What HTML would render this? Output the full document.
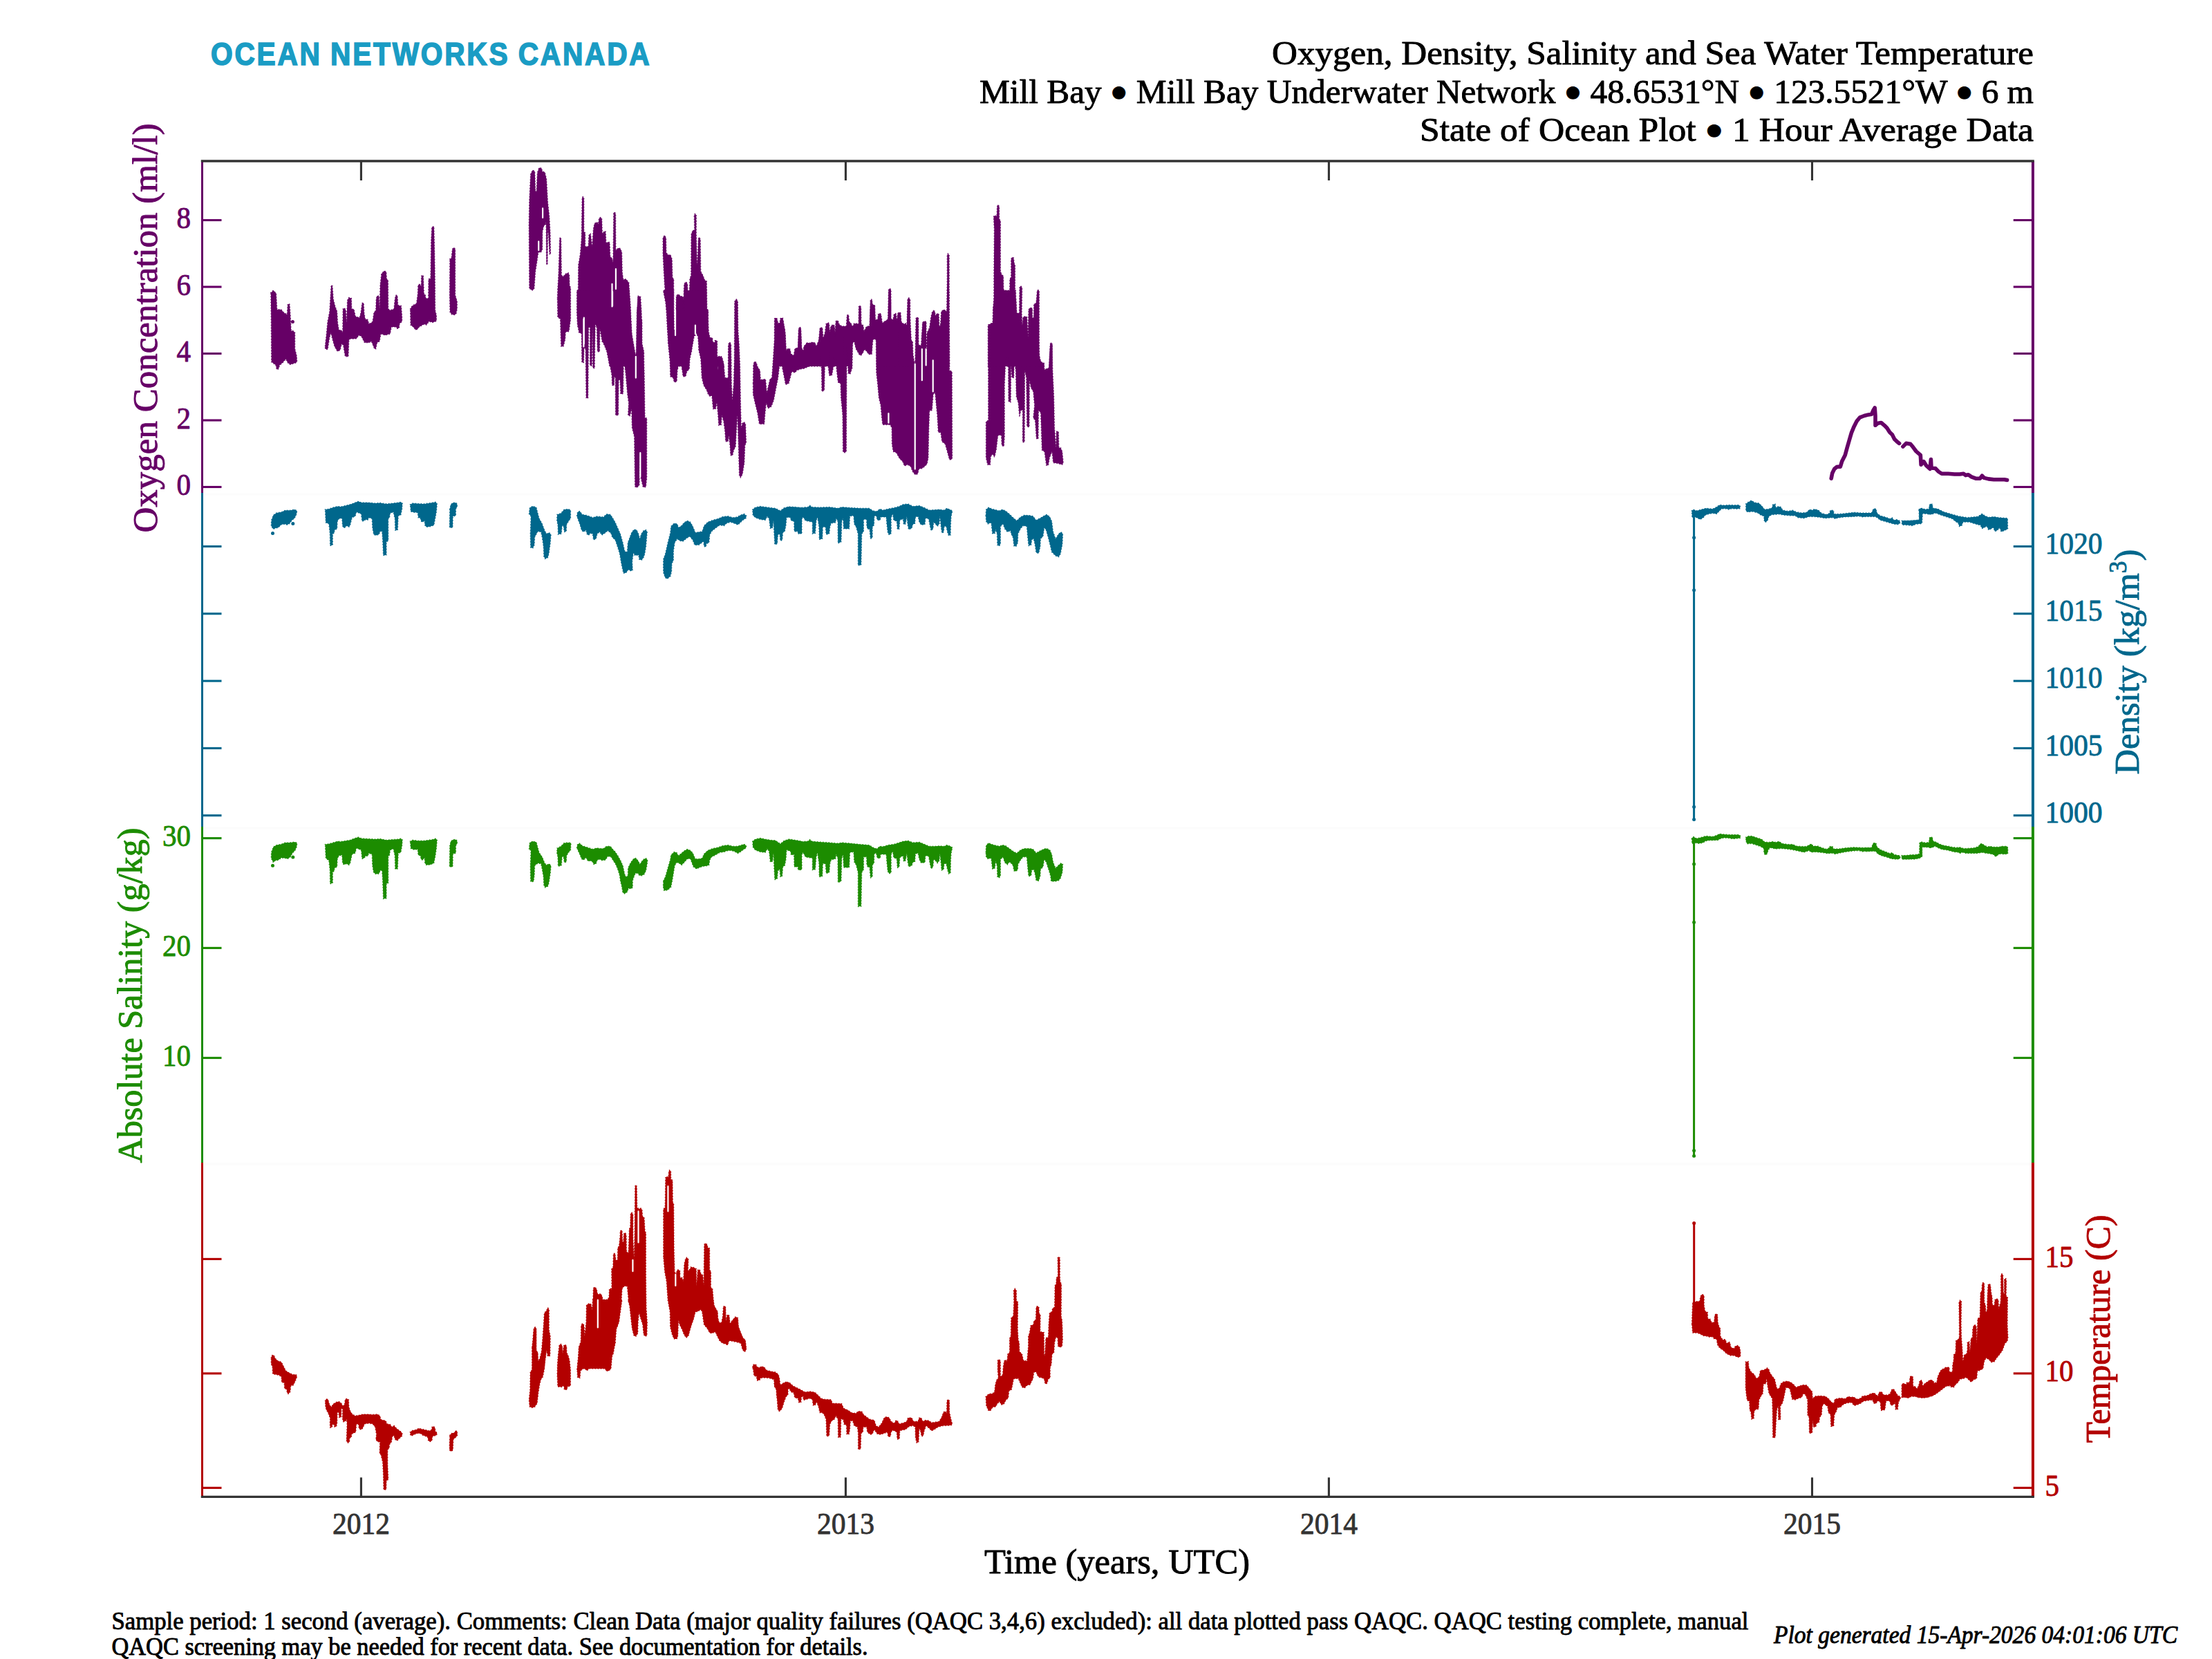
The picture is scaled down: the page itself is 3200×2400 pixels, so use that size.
<!DOCTYPE html>
<html><head><meta charset="utf-8"><title>Oxygen, Density, Salinity and Sea Water Temperature</title>
<style>html,body{margin:0;padding:0;background:#fff;}body{width:3200px;height:2400px;overflow:hidden;}svg{display:block;}text{font-family:"Liberation Serif",serif;}.b{stroke-width:0.9px;paint-order:stroke fill;stroke-linejoin:round}</style></head><body>
<svg width="3200" height="2400" viewBox="0 0 3200 2400">
<rect x="0" y="0" width="3200" height="2400" fill="#ffffff"/>
<path d="M392.3,759.7 392.7,752.4 395.4,745.2 399.9,742.0 407.1,740.7 412.5,738.3 419.8,738.3 426.1,737.1 429.7,738.9 428.8,744.3 426.1,749.7 422.5,752.4 418.9,757.5 415.3,759.3 412.5,758.2 407.1,758.8 402.6,763.3 398.1,764.2 395.4,765.5 392.7,761.5ZM470.4,737.1 475.8,736.2 482.2,734.0 488.5,732.5 493.0,732.9 495.7,732.5 506.6,729.8 513.8,727.1 518.3,725.3 522.9,727.1 533.7,727.1 542.7,728.0 550.0,727.5 559.0,728.9 568.1,728.0 576.2,727.1 579.8,726.2 582.2,728.0 581.6,736.2 579.8,745.2 576.2,746.1 575.3,766.9 571.7,767.3 571.3,750.6 569.0,740.7 564.4,742.5 563.5,748.8 561.7,750.6 561.7,782.3 559.0,784.1 559.0,803.1 554.5,803.4 553.6,781.4 552.7,768.7 550.0,768.7 548.2,773.2 543.7,774.5 540.6,773.2 538.8,763.3 538.2,750.6 533.7,748.8 531.9,752.4 529.2,751.5 526.8,753.3 523.8,754.2 522.5,743.4 515.6,740.7 513.8,747.0 509.3,748.8 506.6,759.7 504.8,762.4 501.2,760.6 499.3,763.3 496.6,763.3 495.4,759.7 494.8,749.7 490.3,750.6 488.1,754.2 487.6,765.1 484.0,766.9 483.4,771.4 481.3,772.3 481.3,788.6 477.6,789.5 477.3,772.3 475.8,757.9 471.3,756.1ZM593.4,729.8 597.0,728.0 604.2,728.6 613.3,728.9 620.5,728.0 625.9,727.1 630.5,726.2 632.3,728.9 631.4,739.8 629.5,750.6 627.7,759.7 622.3,761.8 616.9,762.4 614.7,759.7 614.2,753.3 611.5,755.2 609.3,754.2 608.2,749.7 605.1,748.8 604.2,741.6 598.8,741.2 594.3,740.1ZM650.7,736.2 652.2,729.8 655.8,727.1 660.3,727.5 661.7,730.7 660.7,734.4 659.4,736.2 659.4,746.1 655.2,747.0 654.9,763.3 650.3,763.3ZM765.4,743.4 766.3,734.4 770.8,732.2 775.9,734.0 777.7,741.6 779.9,749.7 784.4,757.9 788.0,767.8 790.7,772.3 794.4,770.5 797.1,773.2 796.2,785.0 794.0,801.3 792.5,806.7 788.6,808.5 786.8,804.9 786.2,790.4 784.4,777.8 782.6,769.6 778.1,768.7 773.6,776.9 773.0,788.6 770.8,793.1 767.6,792.2 767.2,772.3 768.1,747.0ZM806.1,744.3 811.5,742.5 816.1,737.1 822.4,736.5 825.5,738.0 825.5,749.7 822.4,754.2 819.7,758.8 819.3,768.7 816.4,769.6 815.2,761.5 813.3,759.7 812.1,772.3 807.4,773.2 807.0,759.7 805.6,752.4ZM834.5,746.1 835.6,740.7 838.7,739.4 842.3,744.3 847.7,745.2 852.2,746.7 857.6,748.8 863.1,747.0 868.5,747.4 873.0,747.9 877.5,743.8 883.0,744.3 886.6,749.7 890.2,756.1 893.8,764.2 897.4,772.3 901.0,785.0 903.8,797.6 907.4,798.6 908.3,785.0 911.0,777.8 913.7,770.5 917.3,766.0 920.9,766.5 923.7,772.3 925.5,779.6 927.8,772.3 930.9,767.8 934.5,766.5 936.3,769.6 935.4,779.6 934.5,790.4 932.7,801.3 930.9,806.7 928.2,810.3 924.9,809.4 923.7,803.1 918.2,803.4 916.4,799.5 914.6,812.1 915.2,824.8 912.8,826.2 909.2,823.9 905.6,828.8 902.0,829.3 900.1,821.2 898.3,812.1 896.5,801.3 893.8,792.2 890.2,781.4 885.7,776.9 883.9,771.4 879.3,767.8 874.8,771.4 870.7,774.1 867.6,769.6 864.0,772.3 862.2,779.6 858.6,781.0 857.3,772.3 854.0,771.4 851.3,774.5 849.0,772.3 847.7,766.9 844.1,769.6 841.4,766.9 838.7,757.9 835.9,750.6ZM959.8,808.5 962.5,801.3 966.1,785.0 969.8,770.5 970.7,761.5 975.2,757.0 979.7,757.9 981.5,763.3 986.0,760.6 989.7,756.1 994.2,753.3 998.7,755.2 1002.3,761.5 1005.9,770.5 1011.4,769.6 1015.9,768.7 1018.6,760.6 1024.0,755.2 1031.2,752.4 1038.5,750.6 1045.7,747.4 1052.9,746.7 1060.2,748.8 1066.5,747.9 1071.0,745.2 1076.5,743.4 1079.7,746.1 1079.2,749.7 1074.6,752.4 1071.0,756.1 1067.4,759.3 1062.0,757.0 1056.6,755.2 1051.1,757.0 1047.5,760.6 1041.2,759.7 1034.9,764.2 1029.4,768.7 1026.7,774.1 1025.8,785.0 1021.8,786.8 1021.3,791.3 1018.6,790.4 1017.7,783.2 1013.2,786.8 1010.5,788.6 1005.0,788.6 1002.3,781.4 997.8,775.9 993.3,778.7 987.8,783.2 983.3,782.3 979.7,779.6 976.1,785.0 974.3,797.6 974.3,810.3 971.9,815.7 971.6,826.6 969.8,833.8 965.2,837.4 962.2,835.6 959.8,828.4 959.5,817.5ZM1088.8,737.1 1092.7,734.0 1100.0,732.5 1107.2,733.5 1114.4,734.4 1121.7,735.3 1128.9,738.9 1134.3,734.7 1141.6,732.9 1150.6,733.5 1160.0,734.4 1160.0,772.3 1155.1,771.4 1154.2,768.7 1150.6,768.7 1148.8,754.2 1145.2,753.3 1143.4,748.8 1137.9,748.5 1137.0,759.7 1135.2,768.7 1132.5,770.5 1131.6,781.4 1128.9,782.3 1128.0,772.3 1125.3,774.1 1124.4,786.8 1120.8,787.7 1119.9,772.3 1119.0,752.4 1117.7,763.3 1114.4,765.1 1112.6,750.6 1109.9,747.0 1107.2,752.4 1100.0,751.5 1092.7,748.8 1089.1,745.2ZM1140.0,733.5 1147.2,734.0 1158.1,734.4 1168.9,733.5 1171.6,731.1 1174.4,733.5 1185.2,734.0 1199.7,733.5 1212.3,735.3 1217.8,733.5 1230.4,734.4 1244.9,735.3 1257.5,735.3 1263.0,738.9 1268.4,739.8 1272.9,736.2 1277.4,738.0 1284.7,736.2 1293.7,734.4 1300.9,732.5 1306.4,729.8 1313.6,728.9 1320.8,732.5 1329.9,731.6 1337.1,734.4 1344.3,738.0 1351.6,737.6 1358.8,737.1 1366.0,738.0 1369.7,735.3 1375.1,737.6 1377.8,738.9 1376.0,747.0 1375.4,757.9 1375.1,774.1 1372.4,775.0 1370.6,769.6 1368.8,761.5 1366.0,761.5 1365.1,769.6 1362.8,771.4 1361.5,763.3 1359.7,747.0 1358.8,757.9 1356.1,761.5 1353.4,757.9 1350.7,755.2 1349.8,765.1 1347.1,767.8 1345.2,759.7 1343.4,750.6 1338.9,749.7 1338.0,758.8 1332.6,759.3 1329.9,755.2 1328.1,747.0 1324.4,747.9 1323.5,757.9 1320.8,757.9 1319.0,764.2 1314.5,766.0 1313.2,759.7 1311.8,747.0 1310.0,757.9 1307.3,758.8 1306.4,750.6 1301.8,752.4 1300.9,765.1 1298.2,766.0 1297.3,754.2 1292.8,752.4 1291.5,743.4 1289.2,748.8 1289.2,771.4 1286.5,774.1 1284.3,770.5 1282.9,757.9 1282.0,747.9 1273.8,747.9 1273.5,752.4 1269.3,752.4 1267.5,746.1 1264.8,747.0 1264.4,759.7 1262.1,762.4 1262.1,777.8 1259.3,779.6 1257.9,765.1 1255.7,766.0 1253.9,761.5 1253.6,751.5 1249.4,751.5 1249.4,768.7 1246.7,772.3 1245.8,817.5 1241.3,817.9 1241.3,772.3 1238.6,762.4 1235.8,757.9 1234.9,746.1 1229.5,746.7 1228.6,765.1 1220.5,765.1 1219.6,749.7 1217.8,754.2 1216.9,784.1 1212.3,785.9 1212.0,754.2 1209.6,749.7 1208.7,756.1 1202.4,757.0 1200.6,762.4 1199.7,772.3 1195.2,773.2 1194.2,762.4 1190.3,762.4 1189.7,779.6 1185.2,780.5 1184.8,761.5 1182.5,747.9 1180.7,754.2 1179.4,771.4 1175.3,772.3 1175.3,755.2 1165.3,753.3 1161.7,747.9 1159.0,752.4 1159.0,771.4 1154.5,772.3 1153.6,751.5 1152.7,768.7 1149.0,768.7 1148.7,752.4 1144.5,753.3 1143.6,747.9 1140.0,747.0ZM1426.1,745.2 1426.6,737.1 1430.2,734.0 1434.8,736.2 1440.2,737.6 1445.6,738.9 1450.1,737.1 1454.6,738.9 1460.1,743.4 1465.5,748.8 1470.9,753.3 1476.3,747.9 1481.8,745.2 1489.0,745.6 1494.4,746.7 1499.0,752.4 1505.3,749.2 1510.7,746.1 1514.3,744.3 1518.8,747.9 1521.6,754.2 1523.4,768.7 1527.0,779.6 1531.5,772.3 1535.1,769.6 1537.5,772.3 1536.9,786.8 1534.2,801.3 1531.5,805.8 1527.0,804.0 1521.6,798.6 1519.7,790.4 1517.0,779.6 1513.4,766.9 1510.7,763.3 1508.9,775.9 1505.3,779.6 1504.9,790.4 1502.6,800.4 1499.0,799.5 1497.1,786.8 1495.3,779.6 1492.6,780.5 1491.7,788.6 1488.1,789.5 1486.8,777.8 1485.4,761.5 1480.0,760.6 1476.3,765.1 1472.7,772.3 1472.4,785.0 1470.0,790.4 1466.9,790.1 1465.5,777.8 1462.8,772.3 1461.9,767.8 1457.4,769.6 1453.7,765.1 1451.0,757.9 1447.4,761.5 1447.4,786.8 1445.6,790.1 1442.9,788.6 1442.4,772.3 1440.2,766.0 1439.3,771.4 1435.7,772.3 1433.9,756.1 1429.3,757.9 1426.6,754.2ZM2447.4,738.9 2449.7,737.1 2454.2,738.9 2461.5,737.1 2467.8,735.3 2477.8,736.2 2483.2,733.5 2487.7,730.4 2494.0,731.1 2501.3,730.4 2508.5,730.7 2515.7,730.4 2517.5,732.5 2517.2,735.8 2512.1,736.2 2504.9,735.8 2501.3,737.1 2495.8,735.8 2490.4,736.2 2485.9,740.7 2483.2,743.4 2477.8,742.5 2472.3,743.4 2466.9,745.2 2464.2,748.8 2459.7,751.5 2456.1,749.7 2452.4,747.9 2447.9,748.8ZM2525.7,728.9 2529.3,726.2 2533.8,723.9 2538.3,727.1 2544.7,728.0 2549.2,732.5 2552.8,737.1 2559.1,736.2 2563.7,734.4 2564.6,729.8 2568.2,729.3 2569.1,734.4 2572.7,732.5 2576.3,733.5 2579.0,738.0 2586.3,739.4 2593.5,738.3 2598.9,740.7 2606.1,742.0 2613.4,741.2 2617.9,737.1 2621.5,738.0 2625.1,736.5 2630.6,738.0 2635.1,742.5 2642.3,744.3 2646.8,742.5 2647.7,738.3 2652.3,738.3 2653.2,743.4 2662.2,743.4 2671.2,742.5 2682.1,741.2 2692.9,742.0 2707.4,742.0 2710.1,736.2 2713.7,735.8 2715.6,742.5 2720.1,746.1 2727.3,747.9 2734.5,750.6 2737.3,748.8 2740.0,752.4 2743.6,751.5 2748.1,753.3 2749.0,756.1 2746.3,758.8 2740.0,758.2 2732.7,756.1 2725.5,753.9 2720.1,752.4 2715.6,748.8 2712.8,747.4 2698.4,747.4 2694.8,747.9 2689.3,746.7 2680.3,747.4 2667.6,747.9 2658.6,749.2 2655.0,750.6 2651.4,748.8 2640.5,749.7 2633.3,748.5 2624.2,747.4 2617.0,747.4 2609.8,749.7 2600.7,748.8 2597.1,746.1 2591.7,746.1 2580.8,745.2 2573.6,743.8 2562.7,744.8 2558.8,747.4 2557.0,753.3 2553.7,755.7 2551.9,752.4 2551.9,746.7 2547.4,745.2 2542.9,742.0 2535.6,740.1 2528.4,740.7 2525.7,738.9ZM2751.2,753.3 2761.7,753.3 2770.7,752.8 2776.7,752.1 2776.7,736.2 2779.7,735.3 2785.2,737.1 2790.6,736.2 2791.5,729.8 2795.1,729.3 2796.0,735.3 2800.0,735.8 2800.0,742.0 2794.2,744.3 2788.8,743.0 2780.7,742.5 2780.7,756.1 2772.5,757.5 2767.1,760.6 2761.7,759.7 2751.7,759.3ZM2776.0,737.5 2778.3,735.2 2784.4,736.7 2790.6,737.5 2791.4,730.6 2793.4,729.1 2795.5,730.6 2796.0,735.2 2802.9,736.0 2812.1,740.6 2822.9,743.7 2833.6,746.7 2845.9,748.7 2861.3,747.2 2864.4,745.2 2867.4,743.2 2871.3,746.0 2876.7,748.3 2884.4,747.5 2892.0,748.7 2899.7,749.3 2904.3,749.8 2904.6,765.2 2899.7,767.5 2895.1,769.3 2892.8,763.6 2889.0,767.5 2885.9,768.7 2883.6,762.9 2881.3,764.7 2876.7,766.7 2874.4,761.3 2870.5,763.2 2867.4,764.7 2865.1,759.8 2861.3,759.0 2853.6,756.7 2849.0,755.2 2839.8,755.2 2837.9,760.6 2834.4,761.6 2832.9,756.7 2829.0,754.4 2824.4,750.6 2815.2,747.5 2806.0,744.4 2799.8,742.1 2795.2,741.4 2792.1,744.4 2787.5,743.2 2781.4,742.9 2780.6,754.4 2780.1,757.5 2772.1,758.3 2762.9,760.1 2752.2,759.0 2751.9,753.6 2762.9,753.3 2772.1,752.4 2776.5,752.1Z" fill="#00678C" stroke="#00678C" stroke-width="1.5" stroke-linecap="round" stroke-dasharray="0.01 4.1"/>
<path d="M2450.6,741.6 2450.6,1185.5" fill="none" stroke="#00678C" stroke-width="3"/>
<path d="M394.5,771.4h0.01M423.8,757.5h0.01M2450.6,777.8h0.01M2450.6,853.7h0.01M2450.6,1167.3h0.01M2450.6,1185.5h0.01" fill="none" stroke="#00678C" stroke-width="5" stroke-linecap="round"/>
<path d="M392.3,1239.7 392.7,1232.4 395.4,1225.2 399.9,1222.5 407.1,1221.2 412.5,1218.9 419.8,1218.9 426.1,1218.0 429.7,1219.4 429.2,1225.2 426.7,1230.6 423.0,1234.2 420.1,1239.7 416.2,1242.4 412.5,1241.5 407.1,1241.1 402.6,1244.2 398.1,1245.1 395.4,1247.8 392.7,1242.4ZM470.4,1221.6 475.8,1220.7 482.2,1218.9 488.5,1217.1 493.0,1217.6 495.7,1217.1 506.6,1215.3 513.8,1212.5 518.3,1211.1 522.9,1212.9 533.7,1213.5 542.7,1214.0 550.0,1213.5 559.0,1215.3 568.1,1214.4 576.2,1214.0 579.8,1212.9 582.2,1214.7 581.6,1223.4 579.8,1233.3 576.2,1234.2 575.3,1256.9 571.7,1257.4 571.3,1237.9 569.0,1227.9 564.4,1229.7 563.5,1237.0 561.7,1238.8 561.7,1277.6 559.0,1278.6 559.0,1299.7 554.5,1300.3 553.6,1274.0 552.7,1259.6 550.0,1259.6 548.2,1264.1 543.7,1264.6 540.6,1262.3 538.8,1252.3 538.2,1236.1 533.7,1234.2 531.9,1238.8 529.2,1237.9 526.8,1241.5 523.8,1242.4 522.5,1229.7 515.6,1227.0 513.8,1234.2 509.3,1236.1 506.6,1248.7 504.8,1251.4 501.2,1249.6 499.3,1250.5 496.6,1250.5 495.4,1246.9 494.8,1237.0 490.3,1237.9 488.1,1242.4 487.6,1254.1 484.0,1255.9 483.4,1260.5 481.3,1261.4 481.3,1277.6 477.6,1278.6 477.3,1259.6 475.8,1245.1 471.3,1241.5ZM593.4,1217.1 597.0,1215.3 604.2,1216.2 613.3,1216.2 620.5,1215.3 625.9,1214.4 630.5,1212.9 632.3,1215.3 631.4,1227.0 629.5,1239.7 627.7,1248.7 622.3,1250.9 616.9,1251.4 614.7,1248.7 614.2,1240.6 611.5,1244.2 609.3,1243.3 608.2,1237.9 605.1,1237.0 604.2,1228.8 598.8,1229.2 594.3,1227.4ZM650.7,1223.4 652.2,1217.1 655.8,1214.4 660.3,1214.7 661.7,1218.0 660.7,1221.6 659.4,1223.4 659.4,1234.2 655.2,1235.2 654.9,1254.1 650.3,1254.1ZM765.4,1227.9 766.3,1218.9 770.8,1217.1 775.9,1218.3 777.7,1225.2 779.9,1233.3 784.4,1239.7 788.0,1248.7 790.7,1251.4 794.4,1249.6 797.1,1252.3 796.2,1263.2 794.0,1277.6 792.5,1282.2 788.6,1284.0 786.8,1280.4 786.2,1268.6 784.4,1257.8 782.6,1249.6 778.1,1248.7 773.6,1252.3 773.0,1266.8 771.8,1275.5 767.6,1275.5 767.2,1252.3 768.1,1230.6ZM806.1,1227.0 811.5,1224.3 816.1,1219.4 822.4,1218.9 826.0,1219.4 825.5,1229.7 822.4,1233.3 819.7,1237.9 819.3,1246.9 816.4,1247.8 815.2,1239.7 813.3,1238.8 812.1,1252.3 807.4,1253.2 807.0,1239.7 805.6,1233.3ZM834.5,1226.1 835.6,1221.2 838.7,1220.1 842.3,1223.4 847.7,1225.2 852.2,1226.7 857.6,1228.5 863.1,1226.7 868.5,1227.4 873.0,1227.4 877.5,1224.3 883.0,1224.3 886.6,1228.8 890.2,1232.4 893.8,1237.9 897.4,1244.2 901.0,1252.3 903.8,1265.0 905.6,1268.6 908.3,1266.8 908.6,1255.9 911.0,1250.5 913.7,1246.0 917.3,1241.8 920.0,1241.5 923.7,1246.0 925.5,1250.5 927.8,1246.9 930.9,1243.3 934.5,1241.5 936.9,1244.2 935.8,1252.3 934.5,1259.6 931.8,1265.0 928.2,1266.8 924.9,1266.4 922.7,1263.2 919.1,1263.5 917.0,1268.6 915.2,1274.0 915.2,1284.0 912.8,1285.8 909.2,1284.9 907.4,1290.3 903.8,1293.0 901.0,1291.2 899.2,1281.3 897.4,1274.0 896.5,1266.8 893.8,1257.8 890.2,1249.6 886.6,1244.2 883.9,1239.7 879.3,1238.8 875.7,1244.2 870.7,1244.7 867.6,1242.9 864.0,1244.2 862.2,1249.6 859.1,1250.5 857.3,1246.9 854.0,1245.1 851.3,1246.0 849.0,1243.3 847.7,1240.6 844.1,1244.2 841.4,1242.4 838.7,1236.1 835.9,1229.7ZM959.8,1274.0 962.5,1268.6 966.1,1255.9 969.8,1243.3 970.7,1237.0 975.2,1232.4 978.8,1233.3 981.5,1237.9 986.0,1234.2 989.7,1231.0 994.2,1228.5 998.7,1230.3 1002.3,1234.2 1005.9,1242.4 1011.4,1242.4 1015.9,1241.5 1018.6,1235.2 1024.0,1230.3 1031.2,1227.4 1038.5,1226.1 1045.7,1223.4 1052.9,1222.5 1060.2,1224.3 1066.5,1224.3 1071.0,1223.0 1076.5,1221.2 1079.7,1223.4 1079.2,1226.7 1074.6,1229.7 1071.0,1232.4 1067.4,1234.6 1062.0,1231.5 1056.6,1230.3 1051.1,1231.0 1047.5,1232.4 1041.2,1233.3 1034.9,1237.0 1029.4,1239.7 1026.7,1244.2 1025.8,1251.4 1021.8,1252.7 1016.8,1253.2 1013.2,1254.5 1007.7,1256.9 1003.2,1254.1 1000.5,1246.9 998.7,1242.4 994.2,1242.4 989.7,1247.8 986.0,1251.4 982.4,1248.7 978.8,1247.8 976.1,1252.3 974.3,1263.2 972.5,1274.0 970.7,1283.1 966.1,1287.6 960.7,1288.5 959.3,1282.2ZM1088.8,1217.1 1092.7,1214.0 1100.0,1212.5 1107.2,1214.0 1114.4,1215.3 1121.7,1215.8 1128.9,1220.7 1134.3,1216.2 1141.6,1214.0 1150.6,1215.3 1160.0,1217.1 1160.0,1257.8 1156.9,1258.7 1154.2,1254.1 1150.6,1254.1 1148.8,1234.2 1145.2,1233.3 1143.4,1229.7 1137.9,1229.7 1137.0,1243.3 1135.2,1252.3 1132.5,1254.1 1131.6,1267.7 1128.9,1268.6 1128.0,1257.8 1125.3,1259.6 1124.4,1271.3 1120.8,1272.6 1119.9,1255.9 1119.0,1233.3 1117.7,1246.0 1114.4,1247.3 1112.6,1231.5 1109.9,1227.9 1107.2,1233.3 1100.0,1232.4 1092.7,1229.7 1089.1,1225.2ZM1140.0,1215.3 1147.2,1217.1 1158.1,1217.6 1168.9,1217.1 1171.6,1214.4 1174.4,1217.1 1185.2,1218.0 1199.7,1218.9 1212.3,1220.1 1217.8,1218.9 1230.4,1220.1 1244.9,1221.6 1257.5,1222.5 1263.0,1226.1 1268.4,1227.9 1272.9,1224.3 1277.4,1224.8 1284.7,1222.5 1293.7,1221.2 1300.9,1218.9 1306.4,1217.1 1313.6,1216.2 1320.8,1218.9 1329.9,1218.3 1337.1,1221.2 1344.3,1224.3 1351.6,1224.3 1358.8,1223.8 1366.0,1224.3 1369.7,1222.5 1375.1,1224.3 1377.8,1226.1 1376.0,1234.2 1375.4,1245.1 1375.1,1263.2 1372.4,1264.1 1370.6,1257.8 1368.8,1249.6 1366.0,1249.6 1365.1,1257.8 1362.1,1259.2 1361.5,1250.5 1359.7,1234.2 1358.8,1245.1 1356.1,1248.7 1353.4,1245.1 1350.7,1243.3 1349.8,1254.1 1347.1,1256.9 1345.2,1248.7 1343.4,1238.8 1338.9,1237.9 1338.0,1247.8 1332.6,1248.4 1329.9,1243.3 1328.1,1234.2 1324.4,1235.2 1323.5,1246.9 1320.8,1246.9 1319.0,1252.3 1314.5,1253.8 1313.2,1246.9 1311.8,1234.2 1310.0,1245.1 1307.3,1246.5 1306.4,1237.9 1301.8,1240.6 1300.9,1254.1 1298.2,1255.6 1297.3,1242.4 1292.8,1240.6 1291.5,1231.5 1289.2,1236.1 1289.2,1262.3 1286.5,1264.1 1284.3,1260.5 1282.9,1246.9 1282.0,1236.1 1273.8,1236.1 1273.5,1241.5 1269.3,1241.5 1267.5,1234.2 1264.8,1235.2 1264.4,1248.7 1262.1,1251.4 1262.1,1268.2 1259.3,1270.1 1257.9,1254.1 1255.7,1255.0 1253.9,1250.5 1253.6,1239.7 1249.4,1239.7 1249.4,1257.8 1246.7,1262.3 1245.8,1311.1 1241.3,1311.6 1241.3,1262.3 1238.6,1251.4 1235.8,1246.9 1234.9,1232.4 1229.5,1233.3 1228.6,1255.0 1220.5,1255.0 1219.6,1236.1 1217.8,1241.5 1216.9,1274.9 1212.3,1276.7 1212.0,1241.5 1209.6,1236.1 1208.7,1242.4 1202.4,1243.7 1200.6,1249.6 1199.7,1262.3 1195.2,1263.5 1194.2,1249.6 1190.3,1249.6 1189.7,1267.7 1185.2,1268.6 1184.8,1248.7 1182.5,1233.3 1180.7,1240.6 1179.4,1257.8 1175.3,1258.7 1175.3,1241.5 1165.3,1239.7 1161.7,1233.3 1159.0,1237.9 1159.0,1256.9 1154.5,1258.7 1153.6,1236.1 1152.7,1254.1 1149.0,1254.1 1148.7,1236.1 1144.5,1237.0 1143.6,1231.5 1140.0,1230.6ZM1426.1,1232.4 1426.6,1223.0 1430.2,1219.4 1434.8,1221.6 1440.2,1223.0 1445.6,1224.3 1450.1,1222.5 1454.6,1223.4 1460.1,1227.4 1465.5,1231.5 1470.9,1234.2 1476.3,1229.7 1481.8,1227.4 1489.0,1227.4 1494.4,1228.5 1499.0,1233.9 1505.3,1230.6 1510.7,1227.9 1514.3,1227.4 1518.8,1229.7 1521.6,1236.1 1523.4,1246.9 1527.0,1255.9 1531.5,1251.4 1535.1,1248.4 1537.5,1250.5 1536.9,1261.4 1534.2,1270.4 1531.5,1273.7 1527.0,1274.9 1520.7,1274.9 1519.7,1266.8 1517.0,1257.8 1513.4,1246.9 1510.7,1243.3 1508.9,1254.1 1505.3,1257.8 1504.9,1266.8 1502.6,1274.4 1499.0,1273.7 1497.1,1263.2 1495.3,1257.8 1492.6,1258.7 1491.7,1266.8 1488.1,1267.7 1486.8,1255.9 1485.4,1239.7 1480.0,1239.7 1476.3,1244.2 1472.7,1250.5 1472.4,1257.8 1470.0,1260.5 1466.9,1259.9 1465.5,1252.3 1462.8,1248.7 1460.1,1246.9 1457.4,1250.9 1453.7,1247.8 1451.0,1239.7 1447.4,1243.3 1447.4,1266.8 1445.6,1270.1 1442.9,1268.6 1442.4,1252.3 1440.2,1246.0 1439.3,1255.9 1435.7,1257.4 1433.9,1241.5 1429.3,1242.4 1426.6,1239.7ZM2447.4,1213.0 2449.7,1210.3 2454.2,1213.0 2461.5,1211.2 2467.8,1209.4 2477.8,1210.3 2483.2,1208.5 2487.7,1206.3 2494.0,1207.1 2501.3,1207.6 2508.5,1207.6 2515.7,1207.6 2517.9,1209.4 2517.5,1212.5 2512.1,1213.0 2506.7,1213.6 2501.3,1212.5 2494.0,1212.1 2489.5,1213.0 2485.0,1215.4 2477.8,1215.7 2472.3,1215.7 2467.8,1216.6 2463.3,1219.3 2457.9,1220.3 2452.4,1219.3 2447.9,1220.8ZM2525.7,1211.2 2529.3,1209.4 2534.7,1209.4 2541.0,1211.8 2548.3,1213.9 2552.8,1217.9 2559.1,1218.4 2564.6,1217.5 2569.1,1218.4 2573.6,1217.2 2578.1,1220.3 2586.3,1221.5 2593.5,1221.5 2598.9,1223.9 2606.1,1224.4 2613.4,1224.4 2617.9,1222.1 2620.3,1220.8 2623.3,1223.9 2629.7,1223.9 2635.1,1226.2 2642.3,1228.4 2646.3,1226.6 2646.8,1224.4 2651.0,1224.4 2652.3,1228.0 2660.4,1228.0 2671.2,1226.6 2682.1,1225.7 2692.9,1226.2 2707.4,1226.2 2709.6,1220.3 2712.8,1219.3 2715.0,1224.8 2720.1,1229.3 2727.3,1232.0 2734.5,1235.3 2736.7,1233.5 2740.0,1236.5 2748.1,1237.8 2749.0,1240.1 2746.3,1242.9 2738.2,1242.5 2730.9,1240.1 2723.7,1238.3 2718.3,1235.6 2714.6,1232.0 2711.0,1231.1 2698.4,1231.6 2694.8,1232.0 2689.3,1230.6 2680.3,1231.1 2669.4,1232.4 2660.4,1234.2 2655.0,1235.6 2651.4,1234.2 2644.1,1234.7 2636.9,1233.5 2626.0,1232.4 2620.6,1232.9 2617.0,1230.6 2609.8,1232.9 2598.9,1230.6 2589.9,1228.8 2577.2,1227.5 2568.2,1228.0 2560.9,1226.2 2558.2,1229.3 2556.4,1235.3 2553.7,1237.1 2551.9,1233.8 2551.5,1227.5 2547.4,1224.8 2541.0,1222.6 2533.8,1220.3 2527.5,1220.8 2525.7,1216.6ZM2751.2,1237.8 2761.7,1237.4 2770.7,1236.5 2776.7,1235.3 2777.0,1219.3 2779.7,1217.9 2785.2,1219.3 2790.6,1218.4 2791.5,1211.8 2795.1,1211.2 2796.0,1217.5 2800.0,1217.9 2800.0,1223.9 2794.2,1226.6 2788.8,1225.1 2780.7,1224.8 2780.7,1239.2 2772.5,1241.4 2761.7,1242.9 2751.7,1242.9ZM2700.0,1226.4 2709.4,1226.4 2709.6,1220.5 2711.8,1219.1 2714.3,1220.5 2715.0,1225.2 2717.6,1228.7 2723.5,1231.1 2730.6,1233.5 2735.3,1234.9 2737.0,1233.2 2739.4,1236.4 2745.8,1237.6 2748.8,1239.3 2749.1,1241.7 2744.7,1242.9 2735.3,1241.9 2728.2,1239.3 2721.2,1237.6 2716.5,1234.9 2712.9,1231.1 2700.0,1231.7ZM2751.1,1237.6 2758.8,1237.2 2765.8,1236.4 2772.9,1236.4 2777.0,1235.2 2777.0,1220.5 2777.6,1218.2 2782.3,1218.8 2787.0,1219.9 2791.1,1219.9 2791.4,1211.7 2794.0,1211.1 2795.8,1212.9 2796.4,1217.0 2801.1,1218.2 2805.8,1221.1 2811.7,1223.1 2817.5,1224.0 2823.4,1225.2 2829.3,1226.2 2835.2,1225.8 2841.0,1227.6 2848.1,1227.3 2856.3,1226.4 2862.2,1224.6 2864.6,1221.1 2866.9,1220.3 2869.8,1222.3 2875.1,1225.2 2878.7,1224.3 2883.4,1225.2 2892.8,1225.2 2895.1,1224.3 2903.3,1224.3 2904.7,1226.4 2904.7,1235.2 2899.8,1235.8 2893.9,1235.2 2890.4,1236.4 2888.6,1238.7 2885.7,1238.7 2884.5,1236.4 2878.7,1234.9 2874.0,1234.6 2868.1,1233.2 2859.8,1234.4 2852.8,1234.6 2844.6,1234.6 2838.7,1232.9 2835.2,1234.6 2832.8,1232.9 2826.9,1232.5 2817.5,1229.9 2809.3,1228.7 2803.4,1226.4 2798.7,1223.5 2794.6,1223.5 2792.9,1227.0 2790.5,1225.8 2783.5,1225.5 2780.5,1225.2 2780.5,1239.3 2776.4,1241.7 2769.3,1242.9 2758.8,1242.9 2751.7,1242.9Z" fill="#1C8C00" stroke="#1C8C00" stroke-width="1.5" stroke-linecap="round" stroke-dasharray="0.01 4.1"/>
<path d="M2450.6,1215.7 2450.6,1672.2" fill="none" stroke="#1C8C00" stroke-width="3"/>
<path d="M394.5,1252.3h0.01M423.8,1240.0h0.01M2450.6,1250.1h0.01M2450.6,1334.2h0.01M2450.6,1664.6h0.01M2450.6,1672.2h0.01" fill="none" stroke="#1C8C00" stroke-width="5" stroke-linecap="round"/>
<path d="M392.3,1964.1 393.6,1960.5 396.3,1960.5 398.1,1965.0 401.7,1968.6 407.1,1970.4 409.8,1975.8 413.5,1983.1 418.0,1985.8 423.4,1988.5 428.5,1988.5 429.7,1991.2 427.4,1997.5 424.3,2003.9 420.7,2004.8 419.8,2013.8 417.1,2016.5 415.3,2014.7 414.7,2009.8 411.6,2008.8 411.1,2000.3 407.5,1999.7 407.1,1992.1 403.9,1989.4 399.0,1988.5 394.5,1987.6 394.1,1977.6 392.3,1973.1ZM470.4,2026.5 471.9,2023.8 474.4,2024.3 476.7,2031.9 479.1,2035.5 482.2,2031.0 486.7,2028.3 490.3,2027.4 493.9,2030.1 495.7,2033.7 498.4,2031.9 499.3,2024.7 501.5,2023.2 504.4,2024.7 504.8,2035.5 506.6,2040.9 509.3,2045.5 513.8,2048.2 519.2,2047.3 524.7,2046.0 533.7,2046.0 539.1,2046.4 546.4,2046.0 549.6,2048.2 550.9,2053.6 554.5,2054.5 558.1,2055.4 559.9,2059.9 564.4,2060.5 567.2,2064.4 569.9,2062.3 573.5,2066.3 577.1,2069.0 580.7,2071.7 582.2,2074.4 581.1,2078.0 578.0,2080.7 574.4,2084.3 571.7,2082.5 569.9,2077.1 567.7,2078.0 566.3,2086.1 563.5,2089.8 563.0,2095.2 560.8,2097.0 560.8,2118.7 561.7,2140.4 559.0,2142.2 558.7,2154.9 555.0,2155.2 554.5,2133.2 553.6,2115.1 550.9,2104.2 549.1,2102.4 549.6,2086.1 546.4,2085.8 543.7,2082.5 544.6,2075.3 542.7,2064.4 539.1,2059.9 533.7,2059.0 527.4,2059.9 524.7,2066.3 522.0,2068.4 519.2,2066.3 518.9,2060.8 515.6,2059.9 514.7,2071.7 511.1,2073.5 508.8,2074.4 508.4,2078.9 505.7,2080.7 505.7,2086.1 503.0,2087.6 501.2,2084.3 502.1,2060.8 501.5,2053.6 499.3,2056.3 496.6,2056.9 495.4,2051.8 495.7,2039.1 493.9,2037.3 493.6,2050.0 490.7,2050.9 489.9,2042.7 488.1,2043.7 487.6,2059.0 486.7,2063.5 484.0,2064.4 483.1,2060.8 480.9,2060.8 480.4,2064.8 477.6,2065.4 477.3,2059.0 477.6,2051.8 474.9,2044.6 471.9,2039.1 470.8,2033.7ZM593.4,2071.7 596.1,2069.5 601.5,2068.4 606.0,2066.3 609.7,2067.2 615.1,2068.4 621.4,2069.9 624.5,2068.1 625.0,2064.1 627.7,2063.5 629.5,2066.3 629.9,2070.8 632.3,2072.6 631.7,2076.2 628.6,2077.1 625.6,2078.0 625.0,2084.0 622.0,2085.8 619.6,2084.0 618.7,2078.9 615.1,2077.5 611.5,2076.2 608.8,2073.9 604.2,2073.5 599.7,2074.9 596.1,2077.1 593.7,2076.2ZM650.7,2076.2 653.1,2073.5 657.6,2072.6 658.5,2069.9 661.2,2069.9 661.7,2076.2 659.9,2078.9 657.6,2080.7 655.8,2082.5 655.2,2097.9 652.7,2099.7 650.3,2097.9 650.3,2088.0ZM769.8,1980.0 769.8,1949.4 771.6,1940.4 772.2,1922.3 774.0,1919.6 775.8,1922.3 775.8,1953.1 778.0,1956.7 778.3,1969.3 780.7,1965.7 783.4,1954.9 785.2,1933.2 786.7,1911.5 787.4,1899.7 790.6,1896.1 792.4,1891.6 794.2,1894.3 794.2,1924.1 796.1,1933.2 795.7,1960.3 792.4,1962.1 790.6,1951.2 788.8,1965.7 787.4,1980.0ZM806.9,1980.0 807.3,1962.1 809.1,1945.8 811.4,1944.4 813.2,1946.7 813.8,1959.4 815.6,1946.7 817.8,1944.9 819.6,1947.6 819.9,1956.7 822.3,1962.1 824.1,1969.3 825.0,1980.0ZM834.9,1980.0 836.7,1962.1 837.3,1949.4 840.4,1940.4 840.9,1916.9 842.7,1914.2 844.9,1916.9 845.8,1933.2 848.1,1913.3 848.5,1888.0 851.2,1886.1 854.8,1886.1 856.6,1895.2 857.5,1889.8 858.4,1863.5 860.3,1861.7 863.0,1864.4 864.4,1871.7 866.6,1872.6 868.8,1871.3 871.1,1875.3 872.9,1884.3 874.7,1895.2 876.5,1907.8 878.3,1909.7 879.2,1878.9 881.0,1877.1 881.4,1865.4 883.8,1863.5 885.0,1866.3 884.7,1835.5 886.8,1833.7 887.4,1813.8 889.7,1812.9 891.0,1822.9 893.3,1822.9 893.7,1804.8 895.5,1803.0 897.0,1788.5 897.3,1780.4 900.0,1779.8 900.6,1795.7 901.8,1797.5 902.4,1784.9 904.6,1783.1 906.0,1786.7 906.4,1810.2 909.1,1812.9 910.0,1788.5 910.3,1777.6 911.8,1775.8 912.2,1755.9 914.0,1753.8 915.8,1756.9 915.8,1792.1 917.2,1821.0 918.1,1788.5 918.7,1716.2 919.9,1714.0 921.2,1716.2 921.7,1746.9 924.4,1748.7 927.2,1747.8 929.0,1750.5 929.5,1759.6 932.0,1761.4 933.1,1781.3 934.4,1783.1 934.4,1842.7 934.9,1893.4 936.2,1913.3 935.7,1931.4 933.5,1932.3 931.3,1929.5 929.9,1915.1 926.3,1904.2 924.4,1897.0 923.0,1911.5 922.6,1927.7 919.9,1932.3 917.2,1931.4 914.5,1920.5 912.7,1904.2 910.9,1888.0 909.1,1878.9 907.3,1860.8 902.7,1860.8 900.0,1864.4 899.1,1878.9 897.3,1897.0 894.6,1913.3 891.9,1920.5 890.1,1942.2 887.4,1956.7 884.7,1962.1 883.8,1980.0ZM959.7,1817.4 959.7,1748.7 962.1,1746.9 962.8,1703.5 965.1,1701.7 966.9,1703.5 967.5,1694.5 968.8,1692.3 970.6,1695.4 970.6,1706.2 972.9,1707.1 973.3,1739.7 974.7,1741.5 975.1,1806.6 976.0,1840.9 978.7,1841.8 979.1,1838.2 981.4,1836.4 983.8,1839.1 983.8,1848.2 986.8,1848.2 988.6,1853.6 989.9,1828.3 991.7,1821.0 993.2,1819.2 995.9,1821.0 995.3,1839.1 998.2,1835.5 999.5,1832.8 1004.0,1833.7 1007.3,1835.5 1007.6,1860.8 1009.4,1837.3 1012.2,1836.4 1014.0,1842.7 1016.7,1844.6 1018.1,1859.0 1018.8,1800.3 1020.3,1798.4 1023.0,1800.3 1023.9,1804.8 1026.6,1805.7 1026.6,1837.3 1028.4,1839.1 1028.4,1862.6 1030.8,1864.4 1031.5,1873.5 1032.9,1888.0 1035.7,1893.4 1038.0,1897.0 1038.4,1906.0 1040.2,1913.3 1043.8,1913.3 1045.6,1904.2 1046.5,1889.8 1049.6,1889.8 1050.1,1911.5 1051.9,1902.4 1054.6,1902.1 1056.1,1915.1 1058.3,1911.5 1063.7,1905.1 1067.3,1906.0 1068.2,1918.7 1070.9,1925.9 1074.5,1935.0 1078.2,1938.6 1079.6,1951.2 1077.3,1954.9 1074.2,1951.2 1071.8,1942.2 1065.5,1940.4 1058.3,1939.0 1054.6,1938.6 1052.5,1944.9 1049.6,1943.1 1045.6,1942.2 1041.1,1938.6 1037.5,1931.4 1034.8,1925.9 1029.3,1927.7 1026.6,1926.8 1023.0,1920.5 1018.5,1915.1 1015.8,1897.0 1014.0,1893.4 1009.4,1896.1 1005.8,1897.0 1003.1,1907.8 1000.4,1915.1 997.7,1924.1 995.9,1931.4 992.8,1934.1 989.5,1929.5 986.8,1922.3 983.2,1915.1 981.4,1907.8 980.5,1931.4 979.1,1935.9 975.1,1935.9 972.4,1929.5 969.7,1918.7 969.3,1897.0 966.0,1878.9 964.2,1853.6 961.5,1839.1ZM769.8,1948.7 772.2,1922.5 774.0,1919.4 775.8,1922.5 775.8,1954.1 778.0,1957.8 778.3,1970.4 780.7,1966.8 783.4,1955.9 785.2,1934.2 786.7,1912.5 787.4,1899.9 790.6,1896.3 792.4,1891.8 794.2,1894.5 794.2,1925.2 796.1,1934.2 795.7,1961.4 792.4,1962.3 790.6,1952.3 788.8,1966.8 787.4,1981.3 785.2,1992.1 782.5,1995.7 780.7,2003.0 778.9,2013.8 777.1,2030.1 773.5,2035.5 769.8,2036.4 766.2,2035.2 765.3,2024.7 766.8,2010.2 767.1,1984.9 769.8,1981.3ZM807.3,1963.2 809.1,1946.5 811.4,1945.1 813.2,1947.3 813.8,1960.5 815.6,1947.3 817.8,1945.1 819.6,1948.4 819.9,1957.8 822.3,1963.2 824.1,1970.4 825.4,1981.3 825.4,2004.8 820.5,2006.6 820.5,2010.2 816.3,2010.6 815.6,2004.8 812.3,2006.6 806.9,2006.2 806.0,1988.5 806.5,1974.0ZM834.9,1981.3 836.7,1963.2 837.6,1948.7 840.4,1941.5 840.9,1918.0 842.7,1915.3 844.9,1918.0 845.8,1934.2 848.1,1914.4 848.5,1889.0 851.2,1887.2 854.8,1887.2 856.6,1896.3 857.5,1880.0 900.0,1880.0 897.3,1898.1 895.5,1912.5 892.8,1919.8 890.1,1925.2 890.1,1943.3 888.3,1948.7 887.4,1957.8 885.6,1961.4 884.7,1970.4 883.8,1980.4 880.1,1983.4 876.5,1983.1 874.7,1975.8 872.9,1968.2 868.8,1969.5 868.4,1974.0 865.7,1975.5 862.1,1973.1 859.3,1967.7 855.7,1970.4 853.0,1978.6 850.3,1982.2 847.6,1982.2 845.8,1978.6 842.2,1981.3 839.8,1983.1 839.1,1993.6 835.5,1993.0ZM934.4,1880.0 934.9,1894.5 936.2,1914.4 935.7,1932.4 933.5,1933.3 931.3,1930.6 929.9,1916.2 926.3,1905.3 924.4,1898.1 923.0,1912.5 922.6,1928.8 919.9,1933.3 917.2,1932.4 914.5,1921.6 912.7,1905.3 910.9,1889.0 908.2,1880.0ZM1031.5,1880.0 1032.9,1889.0 1035.7,1894.5 1038.0,1898.1 1038.4,1907.1 1040.2,1914.4 1043.8,1914.4 1045.6,1905.3 1046.5,1890.8 1049.6,1890.8 1050.1,1912.5 1051.9,1903.5 1054.6,1903.1 1056.1,1916.2 1058.3,1912.5 1063.7,1906.2 1067.3,1907.1 1068.2,1919.8 1070.9,1927.0 1074.5,1936.1 1078.2,1939.7 1079.6,1952.3 1077.3,1955.9 1074.2,1952.3 1071.8,1943.3 1065.5,1941.5 1058.3,1940.0 1054.6,1939.7 1052.5,1946.0 1049.6,1944.2 1045.6,1943.3 1041.1,1939.7 1037.5,1932.4 1034.8,1927.0 1029.3,1928.8 1026.6,1927.9 1023.0,1921.6 1018.5,1916.2 1015.8,1898.1 1014.0,1894.5 1009.4,1897.2 1005.8,1898.1 1003.1,1908.9 1000.4,1916.2 997.7,1925.2 995.9,1932.4 992.8,1935.2 989.5,1930.6 986.8,1923.4 983.2,1916.2 981.4,1908.9 980.5,1932.4 979.1,1937.0 975.1,1937.0 972.4,1930.6 969.7,1919.8 969.3,1898.1 966.0,1880.0ZM1088.6,1977.6 1089.9,1974.0 1093.5,1973.7 1095.3,1977.6 1099.0,1978.6 1100.8,1976.7 1105.3,1977.6 1108.9,1982.2 1116.1,1984.0 1121.6,1984.9 1126.1,1988.5 1127.9,1995.7 1128.8,2004.8 1132.4,2001.2 1136.9,1999.3 1140.0,1999.3 1140.0,2017.4 1136.9,2021.0 1134.2,2028.3 1131.5,2037.3 1127.9,2041.8 1125.2,2039.1 1124.3,2024.7 1123.4,2019.2 1123.0,2010.2 1120.7,2006.6 1119.7,1995.7 1112.5,1993.6 1103.5,1993.0 1099.9,1993.9 1099.0,1996.6 1095.3,1997.2 1094.4,1991.2 1090.8,1990.3 1089.9,1983.1ZM1120.0,1985.8 1123.6,1986.7 1127.2,1992.1 1128.7,2003.0 1132.7,2002.1 1137.2,1999.3 1141.7,1999.7 1147.1,2004.8 1152.5,2007.5 1158.0,2010.2 1164.3,2013.8 1172.4,2012.9 1178.8,2014.2 1183.3,2018.3 1187.8,2022.9 1192.3,2024.3 1202.3,2024.7 1204.1,2030.1 1217.6,2030.5 1220.4,2037.3 1226.7,2040.0 1232.1,2043.7 1238.4,2044.6 1241.2,2041.8 1246.6,2041.8 1249.3,2046.4 1253.8,2050.0 1258.3,2053.2 1264.7,2054.5 1267.4,2062.6 1271.0,2064.4 1275.5,2059.0 1279.1,2050.9 1282.7,2049.6 1286.4,2050.9 1289.1,2056.3 1293.6,2059.0 1296.3,2054.5 1299.0,2056.3 1300.8,2059.9 1308.1,2058.1 1311.7,2056.3 1313.5,2050.9 1318.9,2050.9 1321.6,2056.3 1328.0,2056.3 1329.8,2050.9 1332.5,2050.9 1335.2,2056.3 1338.8,2054.5 1343.3,2055.0 1347.8,2058.1 1353.3,2057.2 1358.7,2056.3 1362.3,2050.0 1365.0,2042.7 1367.7,2041.8 1369.5,2044.6 1369.9,2026.5 1371.7,2024.3 1373.5,2026.5 1373.5,2042.7 1375.0,2050.0 1376.8,2057.2 1377.7,2059.9 1376.4,2061.7 1372.3,2062.3 1364.1,2062.6 1356.9,2064.4 1351.5,2068.1 1347.8,2069.9 1344.2,2066.3 1339.7,2062.6 1337.0,2069.9 1335.6,2077.1 1333.4,2078.0 1331.6,2069.9 1329.8,2066.3 1328.9,2086.1 1326.1,2087.6 1324.3,2078.9 1324.0,2064.4 1320.7,2062.6 1315.3,2063.5 1309.9,2068.1 1304.4,2069.0 1301.7,2069.9 1301.2,2081.6 1298.1,2082.2 1297.2,2071.7 1291.8,2069.0 1289.1,2071.7 1288.2,2078.0 1284.9,2078.6 1283.7,2071.7 1279.1,2073.5 1273.7,2075.3 1269.2,2074.4 1264.7,2068.1 1262.0,2074.4 1259.2,2075.3 1254.7,2071.7 1253.8,2064.4 1248.8,2064.4 1248.4,2071.7 1245.7,2073.5 1245.1,2096.1 1241.5,2097.0 1241.5,2073.5 1240.3,2064.4 1235.7,2062.6 1233.6,2055.4 1230.3,2055.4 1229.4,2068.1 1228.1,2074.9 1224.9,2074.9 1224.5,2061.7 1221.3,2060.8 1219.8,2053.6 1216.7,2052.7 1216.2,2078.9 1212.6,2079.8 1212.2,2053.6 1209.5,2048.2 1206.8,2053.6 1203.2,2055.4 1200.5,2060.8 1199.6,2077.1 1195.9,2078.0 1195.0,2053.6 1192.3,2046.4 1189.6,2043.7 1186.0,2043.7 1184.2,2035.5 1181.5,2028.3 1179.3,2032.8 1176.4,2033.3 1175.2,2024.7 1171.5,2022.9 1165.2,2024.7 1162.5,2025.6 1161.6,2020.1 1159.4,2021.0 1158.9,2028.6 1155.8,2029.2 1154.4,2022.9 1149.8,2022.0 1148.0,2014.7 1144.4,2013.8 1141.7,2008.4 1138.1,2012.0 1136.3,2022.9 1133.6,2028.3 1130.8,2032.8 1129.9,2040.0 1126.9,2040.9 1125.8,2033.7 1124.5,2017.4 1122.7,2006.6 1120.0,2004.8ZM1426.1,2020.4 1430.6,2016.4 1436.1,2015.9 1438.8,2013.2 1439.7,2004.1 1441.5,1996.9 1444.2,1993.3 1443.3,1982.4 1443.3,1968.0 1445.1,1966.5 1447.3,1968.3 1447.3,1991.5 1450.5,1988.8 1451.4,1977.0 1452.7,1968.9 1455.0,1967.1 1456.9,1969.8 1457.8,1958.9 1460.5,1956.2 1460.5,1936.3 1462.3,1932.7 1462.8,1906.5 1465.9,1903.8 1466.8,1883.0 1466.4,1866.7 1468.2,1864.0 1470.4,1866.7 1470.4,1881.2 1472.6,1883.9 1472.2,1922.7 1473.1,1938.1 1474.4,1942.6 1474.9,1955.3 1478.6,1958.9 1480.4,1968.0 1485.8,1968.9 1487.6,1948.1 1487.6,1933.6 1489.4,1928.2 1491.2,1917.3 1494.8,1916.4 1495.7,1911.0 1498.4,1909.2 1499.0,1891.1 1500.8,1889.3 1503.0,1891.1 1503.3,1900.1 1505.1,1902.0 1504.8,1926.4 1510.2,1927.3 1510.6,1958.9 1511.6,1961.6 1512.9,1935.4 1516.5,1934.5 1517.1,1917.3 1518.3,1899.2 1522.0,1897.4 1522.5,1892.9 1525.6,1891.1 1526.1,1859.5 1527.9,1857.6 1528.3,1848.6 1530.5,1845.9 1530.1,1819.7 1531.5,1817.9 1533.3,1819.7 1533.3,1845.0 1533.7,1854.0 1535.5,1857.6 1535.2,1904.7 1536.4,1910.1 1537.0,1922.7 1537.3,1938.1 1536.4,1948.1 1532.8,1949.0 1530.5,1947.2 1530.1,1935.4 1527.4,1934.5 1525.6,1942.6 1524.7,1957.1 1522.0,1958.9 1521.0,1973.4 1519.2,1978.8 1519.2,1993.3 1516.5,1995.1 1514.7,2001.4 1512.0,2002.0 1510.6,1995.1 1507.5,1993.3 1503.0,1992.4 1500.3,1988.8 1499.3,1985.1 1495.7,1985.1 1494.3,1995.1 1492.1,1998.7 1490.3,2003.2 1485.8,2004.1 1482.2,2008.1 1478.6,2006.8 1475.8,2000.5 1473.1,1994.2 1466.4,1994.7 1465.0,2002.3 1463.2,2010.5 1459.6,2012.3 1458.7,2022.2 1455.0,2025.8 1452.3,2031.2 1448.7,2032.2 1446.0,2027.6 1442.4,2031.2 1440.6,2034.9 1436.1,2035.8 1432.4,2041.2 1429.7,2040.3 1426.7,2033.1ZM2447.5,1914.8 2448.6,1884.0 2452.5,1883.1 2458.9,1882.2 2460.1,1875.0 2462.5,1872.3 2465.2,1874.1 2465.2,1888.6 2466.7,1896.7 2470.3,1898.5 2470.6,1907.5 2474.2,1908.4 2476.1,1913.0 2479.7,1913.0 2480.6,1903.0 2482.4,1900.3 2484.7,1902.1 2485.1,1913.0 2486.9,1919.3 2488.7,1922.0 2488.7,1932.9 2492.3,1938.3 2495.9,1937.4 2498.1,1943.7 2499.6,1941.9 2502.3,1941.5 2504.1,1949.1 2508.6,1950.9 2510.4,1947.3 2514.0,1946.4 2516.7,1949.1 2518.0,1956.4 2517.6,1962.7 2514.0,1963.6 2508.6,1960.9 2503.2,1960.9 2497.8,1958.2 2493.2,1953.7 2487.8,1950.0 2484.7,1945.5 2483.3,1937.4 2479.7,1936.8 2477.5,1933.8 2473.3,1934.3 2468.8,1932.9 2464.3,1932.5 2459.8,1930.1 2455.3,1928.3 2448.6,1928.3ZM2525.2,2007.0 2525.2,1969.9 2529.4,1969.4 2529.9,1978.1 2533.0,1984.4 2537.5,1988.0 2541.2,1994.3 2544.8,1991.6 2546.6,1982.6 2552.0,1981.7 2556.5,1979.0 2558.9,1980.8 2560.1,1985.3 2563.8,1990.7 2567.4,1995.2 2569.2,2003.4 2570.5,2008.8 2573.7,2008.8 2576.4,2001.6 2580.0,1998.9 2585.5,1998.0 2590.9,1999.8 2595.4,2003.4 2598.1,2007.0 2602.6,2005.2 2608.1,2003.4 2613.5,2003.7 2617.1,2007.9 2621.6,2013.3 2622.2,2023.3 2626.1,2019.7 2633.4,2019.3 2640.6,2020.0 2645.1,2023.3 2649.7,2028.7 2653.3,2031.4 2654.2,2024.2 2662.3,2022.4 2669.5,2023.6 2673.2,2020.6 2676.8,2021.5 2682.2,2021.1 2685.8,2024.2 2691.2,2023.3 2694.9,2019.7 2699.4,2020.6 2705.7,2016.9 2711.1,2015.1 2716.6,2019.7 2718.4,2014.2 2722.0,2013.3 2724.7,2017.8 2731.0,2018.2 2734.6,2016.0 2736.5,2010.6 2739.2,2009.2 2741.9,2013.3 2745.5,2018.8 2749.1,2021.5 2748.2,2026.0 2745.5,2028.7 2745.5,2038.6 2742.2,2039.5 2741.5,2028.7 2739.2,2032.3 2735.6,2033.2 2733.7,2026.9 2727.4,2026.0 2726.5,2039.5 2721.1,2040.5 2720.2,2028.7 2716.6,2026.0 2713.9,2030.5 2710.8,2030.1 2709.3,2025.1 2702.1,2026.0 2695.8,2026.9 2691.2,2030.5 2685.8,2032.3 2682.2,2033.2 2678.6,2028.7 2671.4,2029.6 2665.9,2032.3 2662.3,2035.9 2658.7,2035.9 2655.1,2043.2 2653.3,2046.8 2652.4,2063.1 2648.8,2063.4 2648.2,2046.8 2645.1,2043.2 2644.2,2034.1 2638.8,2030.5 2636.1,2034.1 2635.2,2046.8 2632.5,2050.4 2631.6,2057.6 2627.6,2059.4 2627.1,2064.0 2623.4,2064.5 2622.5,2054.0 2621.6,2073.0 2617.5,2073.5 2617.1,2050.4 2614.9,2046.8 2614.9,2025.1 2611.7,2017.8 2609.0,2016.0 2606.3,2021.5 2600.8,2023.3 2597.2,2025.1 2592.7,2024.2 2590.9,2016.0 2589.1,2008.8 2583.7,2007.0 2581.8,2016.0 2580.0,2025.1 2578.2,2030.5 2575.5,2034.1 2575.9,2053.1 2572.8,2054.4 2572.3,2034.1 2570.5,2039.5 2569.2,2059.4 2568.3,2079.3 2564.7,2080.2 2564.3,2043.2 2563.8,2023.3 2559.2,2016.0 2557.4,2007.0 2555.6,1994.3 2554.7,2001.6 2551.1,2002.5 2550.2,2016.0 2547.5,2019.7 2544.8,2025.1 2543.9,2038.6 2539.3,2039.2 2537.5,2043.2 2537.2,2052.2 2533.9,2053.1 2533.0,2043.2 2531.2,2039.5 2530.7,2026.9 2527.6,2026.0 2526.3,2017.8ZM2751.3,2021.5 2751.3,2002.5 2754.5,2001.6 2757.3,2003.4 2758.2,2000.7 2760.9,1999.8 2761.8,2004.3 2763.2,1991.6 2765.0,1990.4 2767.2,1992.5 2767.2,2005.2 2771.7,2007.0 2773.5,2009.7 2776.2,2003.4 2777.1,1998.0 2779.0,1996.5 2780.8,1998.9 2781.3,2005.2 2784.4,2001.6 2787.1,1999.8 2789.8,1998.0 2792.5,1996.1 2797.0,1998.0 2797.9,2000.7 2802.5,1999.8 2803.0,1992.5 2806.1,1985.3 2808.8,1981.7 2813.3,1979.9 2814.2,1978.1 2820.0,1978.1 2820.0,2005.2 2816.0,2005.2 2813.3,2007.0 2808.8,2010.6 2805.2,2013.3 2801.6,2016.0 2797.0,2018.8 2792.5,2019.7 2788.9,2021.5 2781.7,2022.4 2776.2,2021.8 2772.6,2020.6 2765.4,2020.0 2760.9,2022.4 2756.3,2021.5ZM2751.2,2020.6 2751.2,2002.5 2754.8,2001.2 2757.5,2003.4 2758.4,2000.1 2761.5,1999.8 2763.0,2004.3 2763.9,1991.6 2765.7,1990.4 2767.5,1992.5 2767.5,2005.2 2771.1,2006.1 2772.9,2009.7 2776.0,2003.4 2777.1,1998.0 2779.2,1996.5 2781.0,1998.9 2781.4,2005.2 2784.7,2001.6 2788.3,1999.8 2791.0,1997.1 2795.5,1996.5 2797.3,2000.7 2801.8,2000.1 2802.7,1994.3 2805.5,1986.2 2808.2,1981.7 2811.8,1979.9 2814.5,1978.4 2818.7,1979.0 2819.0,1984.9 2824.4,1984.4 2824.8,1974.4 2826.3,1967.2 2826.3,1960.0 2829.0,1957.3 2829.5,1939.2 2832.6,1937.9 2834.4,1934.7 2834.4,1920.2 2833.9,1884.0 2835.7,1880.4 2837.5,1883.1 2837.1,1916.6 2837.5,1934.7 2838.6,1949.1 2839.8,1969.0 2841.6,1960.0 2845.2,1958.2 2846.1,1952.7 2846.1,1941.9 2848.9,1940.5 2849.8,1956.4 2851.2,1936.5 2853.4,1934.7 2853.7,1923.8 2855.2,1917.5 2857.9,1916.6 2859.2,1920.2 2859.7,1943.7 2861.0,1907.5 2864.2,1905.7 2865.1,1869.6 2866.9,1867.8 2867.5,1856.9 2869.3,1854.7 2870.6,1857.8 2870.6,1884.0 2872.4,1888.6 2872.9,1898.5 2874.7,1894.9 2875.1,1875.0 2876.0,1858.7 2878.3,1856.9 2879.6,1859.6 2880.5,1869.6 2882.0,1876.8 2882.3,1887.6 2885.0,1888.6 2885.9,1880.4 2888.6,1878.6 2891.0,1880.4 2891.4,1893.1 2894.1,1884.0 2894.6,1869.6 2894.6,1844.2 2896.4,1842.4 2897.7,1845.2 2898.2,1869.6 2899.5,1873.2 2899.5,1850.6 2901.8,1849.3 2902.6,1852.4 2902.2,1875.0 2904.4,1876.8 2904.0,1916.6 2904.9,1934.7 2904.0,1940.1 2900.4,1943.7 2896.8,1953.7 2892.3,1960.0 2887.7,1965.4 2885.0,1969.9 2880.5,1970.8 2877.8,1967.2 2873.3,1964.5 2870.6,1969.0 2868.8,1979.9 2864.2,1982.6 2860.6,1983.5 2859.7,1994.3 2855.2,1996.1 2851.6,1999.4 2848.0,1996.1 2844.3,1992.5 2840.7,1994.3 2835.3,1995.2 2832.6,1999.8 2829.0,2003.0 2826.3,2007.0 2822.6,2006.6 2819.9,2003.4 2816.3,2004.3 2812.7,2003.4 2810.0,2008.8 2804.6,2012.4 2799.1,2016.0 2795.5,2019.3 2788.3,2021.5 2781.0,2021.1 2775.6,2021.8 2770.2,2019.7 2764.8,2019.7 2759.3,2021.8 2753.0,2021.1ZM2640.0,2021.5 2643.6,2023.3 2648.1,2027.8 2652.7,2030.5 2654.5,2024.2 2663.5,2022.9 2670.7,2024.2 2673.5,2020.6 2681.6,2021.5 2687.0,2024.2 2692.4,2022.4 2694.2,2019.7 2701.5,2018.8 2706.9,2016.0 2711.4,2015.7 2714.1,2019.7 2718.7,2019.7 2719.6,2014.2 2722.3,2013.9 2724.1,2018.2 2730.4,2018.2 2734.0,2016.9 2736.7,2010.6 2739.1,2009.7 2741.3,2013.3 2744.9,2019.3 2748.5,2019.7 2749.4,2022.4 2746.7,2026.9 2745.2,2038.6 2742.2,2039.2 2741.6,2028.7 2739.1,2032.3 2735.8,2032.7 2734.4,2026.0 2728.6,2026.0 2726.8,2039.5 2721.4,2040.5 2720.5,2028.7 2715.9,2026.0 2713.2,2030.5 2710.5,2029.6 2708.7,2024.7 2699.7,2026.0 2694.2,2027.8 2688.8,2031.4 2683.4,2033.2 2679.8,2028.7 2672.5,2029.6 2665.3,2031.4 2662.6,2035.9 2658.1,2035.9 2656.3,2042.3 2653.6,2046.8 2652.7,2063.1 2649.0,2063.4 2648.7,2046.8 2645.4,2042.3 2643.6,2034.1 2640.0,2032.3Z" fill="#B30000" stroke="#B30000" stroke-width="1.5" stroke-linecap="round" stroke-dasharray="0.01 4.1"/>
<path d="M864.8,1880.7 864.8,1920.5M977.3,1843.7 977.3,1859.9M915.4,1822.9 915.4,1839.1M966.4,1716.2 966.4,1752.3M923.5,1752.3 923.5,1797.5M985.6,1788.5 985.6,1799.3" fill="none" stroke="#ffffff" stroke-width="2.2" stroke-linecap="round"/>
<path d="M2450.7,1769.4 2450.7,1885.8" fill="none" stroke="#B30000" stroke-width="3"/>
<path d="M2450.7,1769.4h0.01" fill="none" stroke="#B30000" stroke-width="5" stroke-linecap="round"/>
<path d="M391.8,423.4 395.4,420.1 399.5,424.3 400.8,447.8 406.8,447.8 410.7,452.3 415.3,455.0 416.2,440.6 418.9,439.3 420.1,455.9 421.2,478.6 424.3,478.6 426.7,481.3 426.7,504.8 429.2,514.7 429.7,522.9 428.5,524.7 424.3,526.1 419.8,527.4 416.2,524.7 413.5,519.6 408.9,524.7 404.4,528.6 403.1,533.7 400.3,534.6 399.0,528.3 395.4,525.6 392.7,523.8 392.3,466.8ZM470.4,500.3 471.9,486.7 474.0,465.0 476.7,451.4 478.2,427.0 479.1,412.5 480.9,413.5 482.2,432.4 484.9,443.3 487.6,450.5 488.5,466.8 490.3,477.6 493.6,477.6 495.7,481.3 496.1,446.9 498.4,445.5 500.3,448.7 501.2,466.8 502.6,434.2 504.8,430.3 508.4,431.5 508.8,446.9 512.0,447.3 514.2,457.8 520.1,459.6 522.0,452.3 523.8,438.2 526.1,438.2 526.8,452.3 528.3,461.4 531.9,462.3 533.7,468.6 537.3,466.8 539.1,465.0 540.9,452.3 543.7,448.7 544.2,432.4 545.5,427.9 548.2,427.9 549.1,446.9 550.0,412.5 551.8,396.3 555.8,391.8 558.7,393.0 559.4,403.5 561.4,405.3 561.7,446.9 564.4,448.7 569.9,446.9 571.3,432.4 572.6,427.0 574.9,427.4 575.7,441.5 580.4,442.4 581.6,457.8 581.6,465.0 578.0,468.6 577.5,474.0 575.3,475.8 572.6,473.1 566.3,473.1 564.4,483.1 557.2,484.9 550.9,483.1 549.1,493.9 545.5,495.7 543.7,504.8 541.8,504.8 537.3,493.9 533.7,495.7 527.4,495.7 522.9,486.7 519.2,484.9 515.6,489.9 506.6,490.3 504.8,492.1 503.9,516.0 499.3,515.6 496.6,499.3 494.3,497.5 492.1,506.6 488.1,508.4 484.0,501.2 481.3,492.1 478.6,481.3 476.7,488.5 474.0,505.7 470.4,504.8ZM593.5,447.0 596.2,442.5 602.5,438.9 604.3,425.3 604.8,412.6 607.4,410.8 609.2,414.4 609.7,399.1 612.4,398.2 613.3,425.3 615.2,426.2 616.1,431.6 619.7,431.6 620.0,403.6 622.9,402.7 623.7,349.3 624.7,328.6 627.8,327.6 628.7,363.8 629.3,405.4 629.6,448.8 631.4,456.0 631.4,464.2 630.9,464.7 626.0,466.5 620.6,465.1 617.0,470.1 613.3,469.1 606.1,473.2 604.3,475.9 601.6,477.4 597.1,472.3 594.0,470.5ZM650.8,374.7 653.1,372.9 654.4,360.2 656.7,358.0 658.6,360.2 658.6,427.1 661.3,436.1 661.3,447.0 659.8,454.2 656.7,455.7 653.1,454.6 651.0,451.5 650.4,427.1ZM765.8,416.3 765.2,324.0 765.8,289.7 767.6,251.7 770.7,245.9 773.7,248.1 774.6,276.1 776.1,277.4 777.4,249.9 779.7,242.7 783.3,243.0 784.6,248.1 788.2,249.0 790.6,258.9 792.4,291.5 794.7,313.2 796.0,336.7 796.5,367.4 795.1,368.3 793.3,338.5 792.4,331.3 792.0,382.8 790.6,382.8 790.0,320.4 789.7,324.0 786.4,327.6 784.8,334.9 784.6,361.1 782.4,365.3 778.8,364.7 776.6,380.1 774.6,392.7 772.8,418.1 769.8,420.2 766.1,417.2ZM806.3,430.7 806.8,418.1 808.1,394.6 809.5,345.7 810.5,343.0 811.7,345.7 812.3,398.2 815.0,400.0 817.7,396.4 822.2,394.6 823.7,398.2 824.0,412.6 825.5,416.3 825.5,461.5 823.1,479.5 818.2,480.5 817.7,490.4 815.0,501.2 811.7,501.2 810.5,461.5 806.8,458.8ZM834.9,452.4 836.3,428.9 836.7,383.7 839.4,367.4 841.2,345.7 842.1,286.1 843.5,284.2 844.8,287.0 844.8,334.9 846.6,336.7 846.6,356.6 851.1,356.6 852.0,339.4 854.4,338.1 856.6,356.6 858.4,331.3 860.2,323.1 863.8,321.3 865.6,324.0 866.5,315.9 868.9,314.1 870.7,316.8 871.4,338.5 873.7,334.9 876.1,334.5 876.8,351.2 879.2,350.3 881.9,350.3 882.8,371.0 885.5,373.8 886.9,380.1 887.7,307.8 889.1,306.9 890.6,308.7 890.9,362.0 894.5,358.8 897.3,359.3 899.6,364.7 900.3,394.6 901.8,404.5 905.4,403.6 909.9,409.0 910.8,428.9 912.3,463.3 914.4,486.8 919.0,512.1 920.8,515.7 921.7,452.4 922.6,429.8 924.4,428.9 925.6,430.7 927.1,454.2 928.9,465.1 928.9,506.7 931.6,508.5 931.6,530.0 881.9,530.0 876.5,501.2 871.0,494.0 869.2,475.9 865.6,470.5 861.1,466.9 856.6,466.9 853.9,472.3 849.3,472.3 847.5,465.1 844.8,461.5 841.2,481.4 837.6,481.4 835.2,465.1ZM910.4,420.0 912.2,443.5 914.0,483.3 916.7,499.6 919.1,514.0 920.4,510.4 921.3,452.5 923.1,428.1 926.7,429.0 928.1,452.5 928.5,495.9 931.2,506.8 932.1,539.3 933.0,604.4 935.7,604.4 935.7,691.2 934.3,704.8 930.3,704.8 927.1,691.2 925.8,653.3 924.9,702.1 921.3,705.4 918.6,703.9 917.6,631.6 914.4,618.9 913.7,591.8 911.3,601.7 908.6,600.8 909.5,582.7 907.7,570.1 905.0,539.3 902.3,519.5 901.4,569.7 897.8,570.1 896.9,549.3 895.0,550.2 894.5,600.8 890.5,600.8 890.2,546.6 888.7,544.8 888.4,557.8 885.5,557.4 885.1,543.0 882.4,528.5 878.8,510.4 874.2,499.6 870.6,490.5 867.9,476.1 867.4,509.0 864.3,508.6 863.4,474.2 861.2,468.8 860.1,533.0 857.6,532.1 857.1,472.4 856.2,529.4 853.5,528.5 853.5,473.3 851.6,474.2 850.7,576.4 848.0,575.5 847.1,505.0 845.0,503.2 844.4,524.9 841.7,524.0 841.3,482.4 838.1,481.5 835.4,470.6 834.5,452.5 834.5,420.0ZM974.8,420.0 974.8,448.8 975.3,478.0 977.5,478.0 978.0,466.8 979.0,427.1 980.8,426.0 983.5,427.1 984.4,429.2 986.2,428.0 988.9,430.7 988.9,448.8 990.2,448.8 989.8,420.0 1021.8,420.0 1022.2,447.1 1024.0,448.9 1025.2,479.7 1027.1,488.7 1030.7,488.7 1031.6,499.6 1033.7,514.0 1034.3,492.3 1036.6,492.3 1037.0,514.0 1038.8,535.7 1039.7,515.8 1044.2,515.8 1046.9,524.9 1048.8,546.6 1053.3,546.6 1053.6,499.6 1055.1,495.0 1056.9,497.8 1057.8,521.3 1058.3,557.4 1059.6,579.1 1061.4,555.6 1062.3,519.5 1062.7,436.3 1065.0,432.7 1066.8,434.5 1067.4,474.2 1069.2,497.8 1070.5,528.5 1071.4,582.7 1072.3,618.9 1074.1,611.7 1076.8,610.8 1078.6,613.5 1079.5,640.6 1077.7,644.2 1076.8,669.5 1074.1,685.8 1071.4,691.2 1069.5,687.6 1068.1,637.0 1066.8,600.8 1065.6,618.9 1064.1,646.0 1061.4,651.5 1059.6,659.1 1056.9,658.7 1056.0,644.2 1054.2,629.8 1053.3,638.8 1049.7,638.8 1048.8,624.3 1046.9,609.9 1044.2,600.8 1043.3,614.9 1039.7,615.3 1038.8,600.8 1037.0,582.7 1035.2,591.8 1031.6,591.8 1029.8,571.9 1027.1,573.7 1024.3,570.1 1022.5,564.7 1018.0,557.4 1015.3,546.6 1013.5,514.0 1010.8,506.8 1009.9,477.9 1007.2,476.1 1006.3,485.1 1002.6,486.9 1000.8,506.8 998.1,517.6 997.2,533.9 993.6,537.5 991.8,544.8 988.2,544.8 985.5,526.7 981.8,528.5 980.0,535.7 979.1,552.0 975.5,552.9 973.7,546.6 969.7,544.8 969.2,521.3 966.5,495.9 964.7,456.2 962.9,438.1 959.4,420.0ZM1089.4,553.8 1089.8,528.5 1091.2,523.1 1094.0,524.0 1095.8,530.3 1099.4,535.7 1100.3,549.3 1107.5,548.4 1109.3,568.3 1113.9,548.4 1116.6,546.6 1118.4,521.3 1120.2,492.3 1120.5,460.7 1123.8,460.1 1125.6,467.9 1128.3,467.0 1129.2,460.1 1132.5,460.1 1133.7,467.9 1135.6,477.9 1137.4,506.8 1140.1,504.1 1142.8,505.0 1143.7,512.2 1148.2,514.0 1150.0,504.1 1154.5,503.2 1156.0,474.2 1158.2,473.3 1159.6,501.4 1161.8,510.4 1162.7,501.4 1166.3,496.9 1169.9,495.9 1171.7,499.6 1174.4,495.0 1179.0,495.9 1180.8,501.4 1184.4,492.3 1186.2,474.2 1189.8,473.9 1190.7,488.7 1193.4,481.5 1195.2,467.9 1198.8,467.0 1199.7,481.5 1202.5,482.4 1203.4,470.6 1207.0,470.6 1207.9,481.5 1209.7,464.3 1212.4,463.8 1214.2,472.4 1220.0,472.4 1220.0,582.7 1216.9,579.1 1216.0,553.8 1212.4,552.9 1209.7,521.3 1207.0,520.4 1206.1,528.5 1203.4,543.0 1199.7,543.0 1197.9,528.5 1193.4,523.1 1192.5,564.7 1188.9,566.5 1188.5,535.7 1187.1,515.8 1183.5,524.9 1181.7,528.5 1174.4,528.5 1163.6,533.0 1158.2,533.9 1152.7,535.7 1150.0,539.3 1145.5,537.5 1141.0,554.7 1136.5,556.5 1134.6,546.6 1131.0,528.5 1128.3,523.1 1125.6,546.6 1122.0,564.7 1119.3,579.1 1115.7,588.2 1111.1,590.9 1108.4,582.7 1106.6,600.8 1105.7,613.5 1098.5,613.5 1095.8,597.2 1092.2,582.7 1089.4,570.1ZM969.8,530.0 967.1,495.8 965.3,474.1 963.5,438.0 961.3,410.8 960.3,392.7 959.0,367.4 959.0,343.9 961.3,340.3 963.5,343.9 963.9,365.6 967.1,369.2 969.8,368.3 972.2,374.7 972.9,401.8 974.7,403.6 974.4,477.7 977.6,477.7 978.3,428.9 980.7,426.2 983.4,428.0 983.9,430.7 986.7,428.9 987.9,430.7 988.5,447.0 989.7,410.8 992.4,407.6 994.6,410.8 995.2,425.3 997.0,428.9 997.9,403.6 999.7,398.2 1000.0,338.5 1002.4,333.1 1004.7,333.1 1004.2,311.4 1005.5,308.7 1007.3,311.4 1007.3,338.5 1008.4,383.7 1009.6,363.8 1010.2,345.7 1011.4,343.0 1013.2,345.7 1013.8,392.7 1016.9,398.2 1019.6,405.4 1022.3,406.3 1022.8,447.0 1024.6,448.8 1024.1,479.5 1026.8,488.6 1029.5,488.6 1030.4,495.8 1034.0,494.9 1035.8,491.8 1037.6,494.0 1037.6,515.7 1042.2,515.4 1044.9,522.9 1047.6,530.0 1015.9,530.0 1011.4,508.5 1009.6,486.8 1006.9,481.4 1004.2,486.8 1001.5,501.2 997.9,519.3 994.2,530.0ZM1053.6,530.0 1053.9,497.6 1055.7,494.9 1057.5,497.6 1057.9,530.0ZM1062.6,530.0 1063.3,436.1 1065.1,432.9 1067.3,436.1 1068.0,501.2 1069.3,530.0ZM1118.1,530.0 1120.8,501.2 1120.5,463.3 1122.3,459.7 1124.4,463.3 1125.4,468.7 1128.1,466.9 1129.0,460.6 1131.3,460.0 1133.1,465.1 1134.4,472.3 1136.2,483.2 1137.1,512.1 1139.8,506.7 1141.6,504.0 1143.4,506.7 1144.3,512.1 1149.8,515.7 1150.7,504.0 1154.3,503.1 1155.2,475.9 1157.0,473.2 1158.8,475.9 1159.7,504.9 1163.3,508.5 1165.1,501.2 1166.9,495.8 1170.6,496.7 1173.3,495.5 1178.7,495.8 1180.5,501.2 1184.1,497.6 1185.9,483.2 1186.3,475.0 1189.2,474.1 1190.5,490.4 1193.2,486.8 1195.0,470.5 1196.8,467.3 1199.5,467.8 1200.4,483.2 1203.1,482.3 1204.0,471.4 1205.8,470.1 1207.6,483.2 1209.4,486.8 1209.8,466.0 1211.2,464.2 1213.1,466.9 1214.9,470.5 1219.4,472.3 1224.8,472.3 1225.7,456.0 1227.5,455.1 1228.4,465.1 1231.1,467.8 1233.9,473.2 1236.6,468.7 1242.0,468.7 1242.4,443.4 1243.8,441.9 1245.6,444.3 1246.0,468.7 1248.3,470.5 1250.1,481.4 1254.6,474.1 1258.3,473.2 1259.2,434.3 1261.0,433.4 1262.2,441.6 1265.5,441.6 1266.4,463.3 1270.0,461.5 1271.8,454.2 1274.5,454.2 1276.3,466.9 1280.9,465.1 1284.5,462.4 1285.4,419.0 1287.2,417.2 1289.0,419.0 1289.0,461.5 1291.7,462.4 1293.5,455.1 1296.2,454.2 1297.1,463.3 1299.0,462.4 1299.9,453.3 1302.6,452.4 1303.5,465.1 1306.2,469.6 1309.8,468.7 1312.5,472.3 1313.4,432.5 1315.2,431.1 1316.5,433.4 1317.0,492.2 1319.7,497.6 1321.6,530.0 1268.2,530.0 1268.2,492.2 1265.5,489.5 1262.8,492.2 1261.0,512.1 1256.5,512.1 1251.0,504.9 1247.4,512.1 1243.8,513.9 1238.4,504.9 1235.7,494.0 1232.9,497.6 1232.0,530.0ZM1324.3,530.0 1325.2,460.6 1327.0,459.3 1328.4,461.5 1328.8,501.2 1333.3,501.2 1334.2,483.2 1336.9,465.1 1340.0,465.1 1340.0,530.0ZM1200.0,481.5 1201.8,472.4 1204.5,469.7 1207.2,472.4 1208.1,486.9 1209.0,465.2 1211.2,463.4 1213.6,468.8 1218.1,472.4 1224.4,471.5 1225.3,456.2 1227.1,455.3 1228.6,467.0 1233.5,472.4 1235.3,467.9 1238.9,467.9 1242.5,468.8 1243.0,442.6 1244.8,442.1 1245.2,468.8 1248.8,470.6 1249.7,479.7 1253.3,472.4 1257.9,471.5 1259.3,434.5 1261.1,433.0 1262.4,440.8 1265.5,441.3 1266.0,463.4 1269.6,462.5 1270.5,454.4 1273.2,452.9 1275.0,463.4 1276.9,468.8 1279.6,465.2 1285.0,461.6 1285.9,422.7 1287.7,421.4 1289.0,438.1 1289.0,461.6 1292.2,463.4 1293.1,454.4 1295.8,453.5 1297.6,463.4 1298.6,453.5 1301.6,452.5 1303.1,465.2 1306.7,468.8 1310.7,467.9 1313.0,472.4 1313.9,433.6 1315.7,431.8 1317.2,470.6 1318.4,492.3 1320.3,494.1 1321.2,521.3 1323.9,524.9 1324.4,497.8 1325.1,459.8 1327.5,458.9 1328.4,499.6 1333.8,499.6 1334.7,467.0 1337.4,466.1 1338.9,481.5 1340.1,526.7 1341.0,481.5 1344.7,474.2 1346.5,461.6 1349.2,450.7 1351.9,449.8 1353.3,456.2 1357.3,453.5 1359.1,474.2 1360.9,470.6 1361.8,450.7 1365.5,448.0 1368.2,449.8 1370.0,451.6 1370.9,420.0 1373.2,420.0 1373.6,535.7 1377.2,537.5 1377.6,662.3 1376.3,665.0 1373.6,665.0 1370.9,655.1 1367.3,642.4 1362.7,638.8 1360.9,626.1 1357.3,625.2 1355.9,600.8 1354.1,582.7 1352.8,568.3 1350.1,570.1 1348.3,593.6 1344.7,594.5 1343.8,618.9 1342.9,662.3 1341.0,671.4 1337.4,675.0 1333.8,677.7 1329.3,678.6 1327.5,685.8 1323.9,686.7 1320.3,682.2 1317.5,675.0 1313.0,672.3 1308.5,674.1 1305.8,667.7 1301.3,663.2 1296.7,655.1 1292.2,653.3 1290.4,642.4 1290.1,618.9 1287.7,614.4 1276.9,614.4 1275.6,604.4 1274.1,586.4 1271.4,575.5 1269.6,555.6 1267.8,539.3 1267.3,492.3 1264.2,489.6 1261.5,492.3 1261.1,512.2 1257.9,513.1 1253.3,505.9 1248.8,506.8 1246.1,514.0 1243.4,513.1 1238.9,503.2 1236.2,492.3 1233.5,495.9 1232.9,532.1 1229.8,541.2 1227.1,540.3 1226.2,514.0 1225.0,501.4 1224.4,653.3 1221.7,655.1 1219.5,653.3 1219.0,600.8 1217.2,580.9 1216.6,554.7 1212.7,553.8 1210.8,539.3 1209.0,521.3 1206.3,517.6 1204.5,528.5 1202.7,543.0 1200.0,543.9ZM1469.4,420.0 1470.3,452.5 1477.6,453.5 1478.5,472.4 1482.1,458.0 1485.7,458.0 1487.5,492.3 1488.4,447.1 1491.1,445.3 1492.9,459.8 1495.7,459.8 1496.6,439.9 1500.2,436.3 1501.1,420.0 1502.4,420.0 1502.9,474.2 1503.8,517.6 1506.5,524.0 1510.1,524.9 1511.0,534.8 1517.4,532.1 1518.3,514.0 1520.1,495.9 1522.2,497.8 1522.8,535.7 1524.6,573.7 1525.5,618.9 1527.7,647.8 1528.2,624.0 1531.3,624.3 1531.8,647.5 1534.5,647.8 1536.7,653.3 1538.2,669.5 1536.7,672.3 1530.9,670.5 1523.7,669.5 1521.9,653.3 1518.3,662.3 1516.5,673.2 1513.7,673.2 1511.0,653.3 1507.4,651.5 1505.6,597.2 1502.4,593.6 1502.0,635.2 1499.3,634.3 1497.5,608.1 1494.8,604.4 1496.6,586.4 1494.8,566.5 1491.5,561.0 1489.3,550.2 1489.0,618.0 1485.7,617.1 1484.8,546.6 1482.5,535.7 1482.1,639.7 1479.4,639.7 1479.4,593.6 1476.7,593.6 1474.9,603.5 1473.1,582.7 1470.3,573.7 1469.4,535.7 1467.3,521.3 1466.7,546.6 1464.0,546.6 1462.6,528.5 1462.2,581.8 1459.0,580.9 1458.6,516.7 1455.0,517.6 1453.2,557.4 1453.2,631.6 1452.3,646.0 1449.2,644.2 1448.6,629.8 1444.1,629.8 1443.2,633.4 1441.4,649.7 1438.7,661.4 1436.0,656.9 1433.3,660.5 1432.4,672.8 1428.8,672.3 1426.4,662.3 1426.4,609.9 1429.7,608.1 1429.7,469.7 1436.0,467.0 1436.9,443.5 1438.7,420.0ZM1300.0,452.4 1302.7,451.5 1304.0,466.9 1308.1,468.7 1310.8,467.8 1311.8,475.0 1313.0,432.5 1314.8,430.7 1316.6,433.4 1316.6,490.4 1319.0,494.0 1320.8,512.1 1322.6,522.9 1323.1,530.0 1300.0,530.0ZM1324.4,530.0 1325.3,461.5 1326.8,458.8 1328.6,460.6 1328.6,499.4 1332.5,500.3 1333.5,483.2 1334.7,466.9 1336.5,464.7 1338.3,466.9 1338.9,483.2 1339.4,530.0ZM1340.1,530.0 1341.2,486.8 1343.4,480.5 1345.2,472.3 1346.7,459.7 1348.5,451.5 1350.6,449.2 1352.4,451.5 1352.8,456.9 1356.4,453.3 1358.2,455.1 1358.8,474.1 1360.6,468.7 1361.8,451.5 1365.1,447.9 1367.8,449.7 1369.6,450.3 1370.2,403.6 1370.2,369.2 1371.4,366.5 1373.2,369.2 1373.2,448.8 1373.8,530.0ZM1429.3,530.0 1429.3,470.5 1433.8,468.7 1436.5,466.9 1436.5,445.2 1437.8,441.6 1437.8,401.8 1438.3,331.3 1437.4,313.2 1440.1,311.4 1442.0,313.2 1442.5,298.7 1443.8,296.0 1445.6,298.7 1445.6,316.8 1447.4,319.5 1447.4,392.7 1449.2,397.3 1451.5,399.1 1451.9,419.0 1453.7,419.9 1453.7,429.8 1458.2,428.9 1458.8,424.4 1460.6,423.5 1460.9,403.6 1462.7,400.9 1462.7,374.7 1464.2,372.0 1466.4,372.9 1467.3,381.0 1468.5,383.7 1468.5,428.9 1470.0,434.3 1470.9,453.3 1474.5,454.2 1475.0,415.4 1476.9,413.5 1478.7,416.3 1478.1,454.2 1479.0,472.3 1479.9,458.8 1483.5,457.8 1484.4,468.7 1486.3,474.1 1487.2,492.2 1488.1,448.8 1489.9,445.2 1493.5,446.1 1493.5,460.6 1495.7,460.6 1495.7,440.7 1498.9,438.9 1500.4,420.8 1502.2,419.0 1503.4,421.7 1503.4,512.1 1505.2,522.9 1508.0,524.4 1510.7,526.6 1510.7,530.0ZM1517.9,530.0 1518.4,513.9 1519.2,497.6 1521.0,495.8 1522.4,498.5 1522.1,530.0Z" fill="#660066" stroke="#660066" stroke-width="1.5" stroke-linecap="round" stroke-dasharray="0.01 4.1"/>
<path d="M886.0,421.8 886.0,442.6M926.3,655.1 926.3,689.4M844.4,461.6 844.4,501.4M919.8,515.8 919.8,546.6M1005.9,470.6 1005.9,483.3M977.0,448.9 977.0,485.1M785.1,301.4 785.1,315.0M779.2,349.3 779.2,362.0M844.8,459.7 844.8,497.6M885.5,410.8 885.5,443.4M890.9,389.1 890.9,418.1M1323.7,526.7 1323.7,678.6M1339.6,505.0 1339.6,528.5M1333.8,505.0 1333.8,550.2M1349.7,521.3 1349.7,566.5M1285.4,598.1 1285.4,611.7" fill="none" stroke="#ffffff" stroke-width="2.2" stroke-linecap="round"/>
<path d="M2649.2,692.2 2650.7,684.5 2653.8,678.3 2657.6,675.3 2662.3,675.3 2664.6,667.6 2669.2,658.4 2672.2,647.6 2675.3,636.8 2678.4,626.1 2682.2,616.9 2686.1,609.2 2690.7,603.8 2696.8,601.5 2703.0,599.9 2707.6,599.2 2709.9,593.8 2712.2,590.0 2713.0,601.5 2713.0,615.3 2716.8,612.2 2721.4,611.5 2726.0,615.3 2729.9,619.2 2733.7,625.3 2737.6,629.1 2740.6,635.3 2744.5,639.1 2747.6,641.4M2752.9,646.1 2757.5,641.4 2763.7,642.2 2767.5,646.8 2772.1,653.0 2778.3,658.4 2779.1,672.2 2782.9,667.6 2786.8,673.7 2792.1,678.3 2793.4,664.5 2794.0,676.8 2799.8,677.6 2804.4,682.2 2809.0,685.3 2818.3,685.3 2827.5,686.0 2835.2,686.0 2840.5,685.3 2843.6,687.6 2847.5,686.8 2852.1,689.9 2858.2,692.2 2864.4,692.2 2867.4,688.3 2870.5,691.4 2876.7,692.9 2884.4,693.7 2892.0,693.7 2899.7,693.7 2903.6,694.5" fill="none" stroke="#660066" stroke-width="5.6" stroke-linejoin="round" stroke-linecap="round"/>
<path d="M423.4,465.4h0.01" fill="none" stroke="#660066" stroke-width="5" stroke-linecap="round"/>
<line x1="295" y1="715.0" x2="2939" y2="715.0" stroke="#fcfcfc" stroke-width="3.6"/>
<line x1="295" y1="1198.0" x2="2939" y2="1198.0" stroke="#fcfcfc" stroke-width="3.6"/>
<line x1="295" y1="1684.0" x2="2939" y2="1684.0" stroke="#fcfcfc" stroke-width="3.6"/>
<line x1="292.5" y1="233.0" x2="292.5" y2="713.0" stroke="#660066" stroke-width="3.0"/>
<line x1="292.5" y1="713.0" x2="292.5" y2="1196.0" stroke="#00678C" stroke-width="3.0"/>
<line x1="292.5" y1="1196.0" x2="292.5" y2="1682.0" stroke="#1C8C00" stroke-width="3.0"/>
<line x1="292.5" y1="1682.0" x2="292.5" y2="2165.4" stroke="#B30000" stroke-width="3.0"/>
<line x1="2940.9" y1="233.0" x2="2940.9" y2="713.0" stroke="#660066" stroke-width="4.0"/>
<line x1="2940.9" y1="713.0" x2="2940.9" y2="1196.0" stroke="#00678C" stroke-width="4.0"/>
<line x1="2940.9" y1="1196.0" x2="2940.9" y2="1682.0" stroke="#1C8C00" stroke-width="4.0"/>
<line x1="2940.9" y1="1682.0" x2="2940.9" y2="2165.4" stroke="#B30000" stroke-width="4.0"/>
<line x1="292.5" y1="318.5" x2="320.5" y2="318.5" stroke="#660066" stroke-width="3.1"/>
<line x1="2912.7000000000003" y1="318.5" x2="2940.9" y2="318.5" stroke="#660066" stroke-width="3.1"/>
<line x1="292.5" y1="415.0" x2="320.5" y2="415.0" stroke="#660066" stroke-width="3.1"/>
<line x1="2912.7000000000003" y1="415.0" x2="2940.9" y2="415.0" stroke="#660066" stroke-width="3.1"/>
<line x1="292.5" y1="511.5" x2="320.5" y2="511.5" stroke="#660066" stroke-width="3.1"/>
<line x1="2912.7000000000003" y1="511.5" x2="2940.9" y2="511.5" stroke="#660066" stroke-width="3.1"/>
<line x1="292.5" y1="608.0" x2="320.5" y2="608.0" stroke="#660066" stroke-width="3.1"/>
<line x1="2912.7000000000003" y1="608.0" x2="2940.9" y2="608.0" stroke="#660066" stroke-width="3.1"/>
<line x1="292.5" y1="704.5" x2="320.5" y2="704.5" stroke="#660066" stroke-width="3.1"/>
<line x1="2912.7000000000003" y1="704.5" x2="2940.9" y2="704.5" stroke="#660066" stroke-width="3.1"/>
<line x1="292.5" y1="790.5" x2="320.5" y2="790.5" stroke="#00678C" stroke-width="3.1"/>
<line x1="2912.7000000000003" y1="790.5" x2="2940.9" y2="790.5" stroke="#00678C" stroke-width="3.1"/>
<line x1="292.5" y1="887.8" x2="320.5" y2="887.8" stroke="#00678C" stroke-width="3.1"/>
<line x1="2912.7000000000003" y1="887.8" x2="2940.9" y2="887.8" stroke="#00678C" stroke-width="3.1"/>
<line x1="292.5" y1="985.1" x2="320.5" y2="985.1" stroke="#00678C" stroke-width="3.1"/>
<line x1="2912.7000000000003" y1="985.1" x2="2940.9" y2="985.1" stroke="#00678C" stroke-width="3.1"/>
<line x1="292.5" y1="1082.4" x2="320.5" y2="1082.4" stroke="#00678C" stroke-width="3.1"/>
<line x1="2912.7000000000003" y1="1082.4" x2="2940.9" y2="1082.4" stroke="#00678C" stroke-width="3.1"/>
<line x1="292.5" y1="1179.7" x2="320.5" y2="1179.7" stroke="#00678C" stroke-width="3.1"/>
<line x1="2912.7000000000003" y1="1179.7" x2="2940.9" y2="1179.7" stroke="#00678C" stroke-width="3.1"/>
<line x1="292.5" y1="1212.6" x2="320.5" y2="1212.6" stroke="#1C8C00" stroke-width="3.1"/>
<line x1="2912.7000000000003" y1="1212.6" x2="2940.9" y2="1212.6" stroke="#1C8C00" stroke-width="3.1"/>
<line x1="292.5" y1="1371.4" x2="320.5" y2="1371.4" stroke="#1C8C00" stroke-width="3.1"/>
<line x1="2912.7000000000003" y1="1371.4" x2="2940.9" y2="1371.4" stroke="#1C8C00" stroke-width="3.1"/>
<line x1="292.5" y1="1530.4" x2="320.5" y2="1530.4" stroke="#1C8C00" stroke-width="3.1"/>
<line x1="2912.7000000000003" y1="1530.4" x2="2940.9" y2="1530.4" stroke="#1C8C00" stroke-width="3.1"/>
<line x1="292.5" y1="1821.4" x2="320.5" y2="1821.4" stroke="#B30000" stroke-width="3.1"/>
<line x1="2912.7000000000003" y1="1821.4" x2="2940.9" y2="1821.4" stroke="#B30000" stroke-width="3.1"/>
<line x1="292.5" y1="1986.9" x2="320.5" y2="1986.9" stroke="#B30000" stroke-width="3.1"/>
<line x1="2912.7000000000003" y1="1986.9" x2="2940.9" y2="1986.9" stroke="#B30000" stroke-width="3.1"/>
<line x1="292.5" y1="2152.4" x2="320.5" y2="2152.4" stroke="#B30000" stroke-width="3.1"/>
<line x1="2912.7000000000003" y1="2152.4" x2="2940.9" y2="2152.4" stroke="#B30000" stroke-width="3.1"/>
<line x1="290.8" y1="233.0" x2="2942.8" y2="233.0" stroke="#333333" stroke-width="3.4"/>
<line x1="290.8" y1="2165.4" x2="2942.8" y2="2165.4" stroke="#333333" stroke-width="3.2"/>
<line x1="522.4" y1="233.0" x2="522.4" y2="261.0" stroke="#333333" stroke-width="3.1"/>
<line x1="522.4" y1="2165.4" x2="522.4" y2="2137.4" stroke="#333333" stroke-width="3.1"/>
<line x1="1223.4" y1="233.0" x2="1223.4" y2="261.0" stroke="#333333" stroke-width="3.1"/>
<line x1="1223.4" y1="2165.4" x2="1223.4" y2="2137.4" stroke="#333333" stroke-width="3.1"/>
<line x1="1922.4" y1="233.0" x2="1922.4" y2="261.0" stroke="#333333" stroke-width="3.1"/>
<line x1="1922.4" y1="2165.4" x2="1922.4" y2="2137.4" stroke="#333333" stroke-width="3.1"/>
<line x1="2621.5" y1="233.0" x2="2621.5" y2="261.0" stroke="#333333" stroke-width="3.1"/>
<line x1="2621.5" y1="2165.4" x2="2621.5" y2="2137.4" stroke="#333333" stroke-width="3.1"/>
<text class="b" x="276" y="330.0" font-size="44.5" fill="#660066" stroke="#660066" text-anchor="end" textLength="20.5" lengthAdjust="spacingAndGlyphs">8</text>
<text class="b" x="276" y="426.5" font-size="44.5" fill="#660066" stroke="#660066" text-anchor="end" textLength="20.5" lengthAdjust="spacingAndGlyphs">6</text>
<text class="b" x="276" y="523.0" font-size="44.5" fill="#660066" stroke="#660066" text-anchor="end" textLength="20.5" lengthAdjust="spacingAndGlyphs">4</text>
<text class="b" x="276" y="619.5" font-size="44.5" fill="#660066" stroke="#660066" text-anchor="end" textLength="20.5" lengthAdjust="spacingAndGlyphs">2</text>
<text class="b" x="276" y="716.0" font-size="44.5" fill="#660066" stroke="#660066" text-anchor="end" textLength="20.5" lengthAdjust="spacingAndGlyphs">0</text>
<text class="b" x="276" y="1224.1" font-size="44.5" fill="#1C8C00" stroke="#1C8C00" text-anchor="end" textLength="41" lengthAdjust="spacingAndGlyphs">30</text>
<text class="b" x="276" y="1382.9" font-size="44.5" fill="#1C8C00" stroke="#1C8C00" text-anchor="end" textLength="41" lengthAdjust="spacingAndGlyphs">20</text>
<text class="b" x="276" y="1541.9" font-size="44.5" fill="#1C8C00" stroke="#1C8C00" text-anchor="end" textLength="41" lengthAdjust="spacingAndGlyphs">10</text>
<text class="b" x="2958.5" y="800.8" font-size="44.5" fill="#00678C" stroke="#00678C" text-anchor="start" textLength="83" lengthAdjust="spacingAndGlyphs">1020</text>
<text class="b" x="2958.5" y="898.0999999999999" font-size="44.5" fill="#00678C" stroke="#00678C" text-anchor="start" textLength="83" lengthAdjust="spacingAndGlyphs">1015</text>
<text class="b" x="2958.5" y="995.4" font-size="44.5" fill="#00678C" stroke="#00678C" text-anchor="start" textLength="83" lengthAdjust="spacingAndGlyphs">1010</text>
<text class="b" x="2958.5" y="1092.7" font-size="44.5" fill="#00678C" stroke="#00678C" text-anchor="start" textLength="83" lengthAdjust="spacingAndGlyphs">1005</text>
<text class="b" x="2958.5" y="1190.0" font-size="44.5" fill="#00678C" stroke="#00678C" text-anchor="start" textLength="83" lengthAdjust="spacingAndGlyphs">1000</text>
<text class="b" x="2958.5" y="1832.9" font-size="44.5" fill="#B30000" stroke="#B30000" text-anchor="start" textLength="41" lengthAdjust="spacingAndGlyphs">15</text>
<text class="b" x="2958.5" y="1998.4" font-size="44.5" fill="#B30000" stroke="#B30000" text-anchor="start" textLength="41" lengthAdjust="spacingAndGlyphs">10</text>
<text class="b" x="2958.5" y="2163.9" font-size="44.5" fill="#B30000" stroke="#B30000" text-anchor="start" textLength="20.5" lengthAdjust="spacingAndGlyphs">5</text>
<text class="b" x="522.4" y="2219" font-size="44.5" fill="#333333" stroke="#333333" text-anchor="middle" textLength="83" lengthAdjust="spacingAndGlyphs">2012</text>
<text class="b" x="1223.4" y="2219" font-size="44.5" fill="#333333" stroke="#333333" text-anchor="middle" textLength="83" lengthAdjust="spacingAndGlyphs">2013</text>
<text class="b" x="1922.4" y="2219" font-size="44.5" fill="#333333" stroke="#333333" text-anchor="middle" textLength="83" lengthAdjust="spacingAndGlyphs">2014</text>
<text class="b" x="2621.5" y="2219" font-size="44.5" fill="#333333" stroke="#333333" text-anchor="middle" textLength="83" lengthAdjust="spacingAndGlyphs">2015</text>
<text class="b" stroke="#660066" transform="translate(227,474.5) rotate(-90)" font-size="50" fill="#660066" text-anchor="middle" textLength="592" lengthAdjust="spacingAndGlyphs">Oxygen Concentration (ml/l)</text>
<text class="b" stroke="#1C8C00" transform="translate(205,1440) rotate(-90)" font-size="50" fill="#1C8C00" text-anchor="middle" textLength="485" lengthAdjust="spacingAndGlyphs">Absolute Salinity (g/kg)</text>
<text class="b" stroke="#00678C" transform="translate(3094,957.5) rotate(-90)" font-size="50" fill="#00678C" text-anchor="middle" textLength="326" lengthAdjust="spacingAndGlyphs">Density (kg/m<tspan font-size="35" dy="-18">3</tspan><tspan dy="18">)</tspan></text>
<text class="b" stroke="#B30000" transform="translate(3052,1922.5) rotate(-90)" font-size="50" fill="#B30000" text-anchor="middle" textLength="330" lengthAdjust="spacingAndGlyphs">Temperature (C)</text>
<text class="b" x="1616" y="2276" font-size="50" fill="#000" stroke="#000" text-anchor="middle" textLength="384" lengthAdjust="spacingAndGlyphs">Time (years, UTC)</text>
<text class="b" x="2942" y="92.5" font-size="48" fill="#000" stroke="#000" text-anchor="end" textLength="1102" lengthAdjust="spacingAndGlyphs">Oxygen, Density, Salinity and Sea Water Temperature</text>
<text class="b" x="2942" y="148.5" font-size="48" fill="#000" stroke="#000" text-anchor="end" textLength="1525" lengthAdjust="spacingAndGlyphs">Mill Bay <tspan font-size="41" dy="-3">●</tspan><tspan dy="3"> </tspan>Mill Bay Underwater Network <tspan font-size="41" dy="-3">●</tspan><tspan dy="3"> </tspan>48.6531°N <tspan font-size="41" dy="-3">●</tspan><tspan dy="3"> </tspan>123.5521°W <tspan font-size="41" dy="-3">●</tspan><tspan dy="3"> </tspan>6 m</text>
<text class="b" x="2942" y="203.5" font-size="48" fill="#000" stroke="#000" text-anchor="end" textLength="888" lengthAdjust="spacingAndGlyphs">State of Ocean Plot <tspan font-size="41" dy="-3">●</tspan><tspan dy="3"> </tspan>1 Hour Average Data</text>
<text x="305" y="94.2" font-size="46.5" font-weight="bold" fill="#1A9CC4" textLength="637.5" lengthAdjust="spacingAndGlyphs" letter-spacing="3.2" word-spacing="-2" stroke="#1A9CC4" stroke-width="1.7" stroke-linejoin="miter" style="font-family:'Liberation Sans',sans-serif">OCEAN NETWORKS CANADA</text>
<text class="b" x="161.5" y="2357" font-size="35" fill="#000" stroke="#000" text-anchor="start" textLength="2368" lengthAdjust="spacingAndGlyphs">Sample period: 1 second (average). Comments: Clean Data (major quality failures (QAQC 3,4,6) excluded): all data plotted pass QAQC. QAQC testing complete, manual</text>
<text class="b" x="161.5" y="2394" font-size="35" fill="#000" stroke="#000" text-anchor="start" textLength="1094" lengthAdjust="spacingAndGlyphs">QAQC screening may be needed for recent data. See documentation for details.</text>
<text class="b" x="2566" y="2376.5" font-size="35" fill="#000" stroke="#000" text-anchor="start" textLength="584" lengthAdjust="spacingAndGlyphs" font-style="italic">Plot generated 15-Apr-2026 04:01:06 UTC</text>
</svg></body></html>
